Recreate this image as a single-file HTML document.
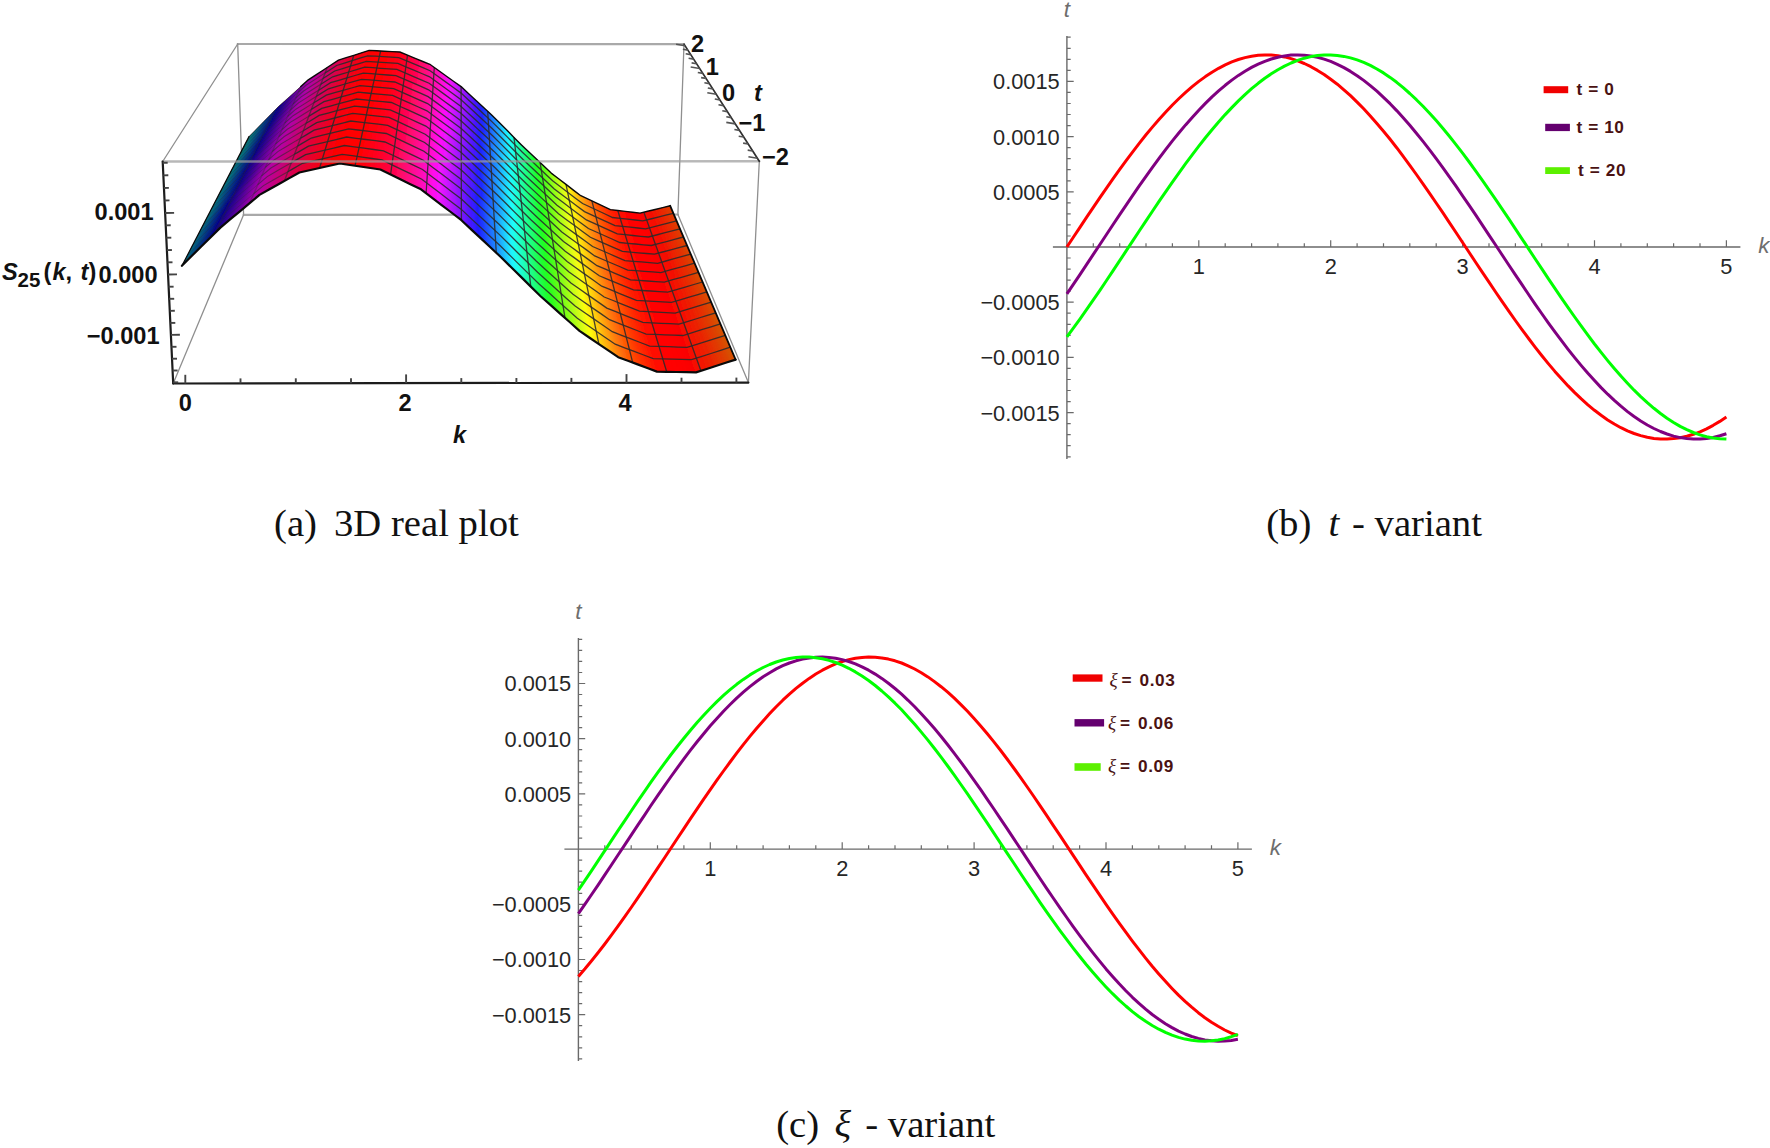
<!DOCTYPE html><html><head><meta charset="utf-8"><title>Figure</title>
<style>html,body{margin:0;padding:0;background:#fff}svg{display:block}text{font-family:"Liberation Sans",sans-serif}.b{font-weight:bold;font-size:23.6px;fill:#111}.tk{font-size:21.8px;fill:#262626}.al{font-size:22.5px;fill:#6e6e6e;font-style:italic}.lg{font-size:17.2px;font-weight:bold;fill:#4a1212;letter-spacing:0.6px}.cap{font-family:"Liberation Serif",serif;font-size:38.7px;fill:#111}</style></head><body>
<svg width="1770" height="1148" viewBox="0 0 1770 1148">
<rect width="1770" height="1148" fill="#fff"/>
<g id="box-back" stroke-linecap="round">
<line x1="237.7" y1="44" x2="684" y2="44.1" stroke="#a9a9a9" stroke-width="2.2"/>
<line x1="237.7" y1="44" x2="243.6" y2="214.8" stroke="#8f8f8f" stroke-width="1.3"/>
<line x1="684" y1="44.1" x2="677.9" y2="214.5" stroke="#8f8f8f" stroke-width="1.3"/>
<line x1="243.6" y1="214.8" x2="677.9" y2="214.5" stroke="#a9a9a9" stroke-width="2.2"/>
<line x1="173.2" y1="383.5" x2="243.6" y2="214.8" stroke="#8f8f8f" stroke-width="1.3"/>
<line x1="748.4" y1="382.6" x2="677.9" y2="214.5" stroke="#8f8f8f" stroke-width="1.3"/>
<line x1="162.7" y1="161.5" x2="237.7" y2="44" stroke="#8f8f8f" stroke-width="1.3"/>
</g>
<defs><clipPath id="sc"><path d="M181.9,265.8L191.4,256.3L201,246.7L210.7,237.2L220.4,227.6L230.1,219.4L239.9,211.3L249.7,203.1L259.5,194.9L269.5,189.3L279.4,183.7L289.4,178.1L299.4,172.5L309.5,170.2L319.6,168L329.6,165.8L339.8,163.5L349.9,165L360.1,166.5L370.3,168L380.4,169.5L390.6,174.4L400.8,179.4L410.9,184.4L421,189.3L431.2,197.1L441.3,204.8L451.4,212.5L461.4,220.2L471.4,229.6L481.4,238.9L491.4,248.2L501.3,257.5L511.2,267.3L521,276.9L530.8,286.6L540.6,296.2L550.4,304.9L560.1,313.6L569.9,322.3L579.5,330.9L589.2,337.5L598.9,344.1L608.6,350.6L618.2,357.2L627.9,360.8L637.6,364.4L647.3,368L656.9,371.6L666.7,371.8L676.4,372L686.2,372.2L696,372.4L705.9,369.2L715.8,366L725.7,362.8L735.6,359.6L670.2,205.8L662.7,207.6L655.1,209.5L647.6,211.3L640.1,213.1L632.7,212.2L625.3,211.4L617.8,210.5L610.4,209.6L603,206.1L595.6,202.7L588.2,199.2L580.8,195.7L573.4,190.1L566,184.4L558.6,178.8L551.2,173.1L543.8,166.1L536.4,159L528.9,152L521.5,144.9L514,137.4L506.5,129.8L499,122.3L491.4,114.7L483.9,107.7L476.3,100.7L468.7,93.7L461.1,86.6L453.5,81.2L445.8,75.7L438.2,70.2L430.5,64.7L422.8,61.5L415.2,58.3L407.5,55.2L399.8,52L392.1,51.6L384.4,51.2L376.7,50.8L369.1,50.4L361.4,52.8L353.8,55.3L346.2,57.7L338.5,60.1L331,65L323.4,70L315.9,74.9L308.3,79.8L300.8,86.5L293.4,93.2L285.9,99.9L278.5,106.5L271.1,114.1L263.7,121.6L256.4,129.1L249,136.6Z"/></clipPath><filter id="bl" x="-5%" y="-5%" width="110%" height="110%"><feGaussianBlur stdDeviation="1.6"/></filter></defs>
<path d="M181.9,265.8L191.4,256.3L201,246.7L210.7,237.2L220.4,227.6L230.1,219.4L239.9,211.3L249.7,203.1L259.5,194.9L269.5,189.3L279.4,183.7L289.4,178.1L299.4,172.5L309.5,170.2L319.6,168L329.6,165.8L339.8,163.5L349.9,165L360.1,166.5L370.3,168L380.4,169.5L390.6,174.4L400.8,179.4L410.9,184.4L421,189.3L431.2,197.1L441.3,204.8L451.4,212.5L461.4,220.2L471.4,229.6L481.4,238.9L491.4,248.2L501.3,257.5L511.2,267.3L521,276.9L530.8,286.6L540.6,296.2L550.4,304.9L560.1,313.6L569.9,322.3L579.5,330.9L589.2,337.5L598.9,344.1L608.6,350.6L618.2,357.2L627.9,360.8L637.6,364.4L647.3,368L656.9,371.6L666.7,371.8L676.4,372L686.2,372.2L696,372.4L705.9,369.2L715.8,366L725.7,362.8L735.6,359.6L670.2,205.8L662.7,207.6L655.1,209.5L647.6,211.3L640.1,213.1L632.7,212.2L625.3,211.4L617.8,210.5L610.4,209.6L603,206.1L595.6,202.7L588.2,199.2L580.8,195.7L573.4,190.1L566,184.4L558.6,178.8L551.2,173.1L543.8,166.1L536.4,159L528.9,152L521.5,144.9L514,137.4L506.5,129.8L499,122.3L491.4,114.7L483.9,107.7L476.3,100.7L468.7,93.7L461.1,86.6L453.5,81.2L445.8,75.7L438.2,70.2L430.5,64.7L422.8,61.5L415.2,58.3L407.5,55.2L399.8,52L392.1,51.6L384.4,51.2L376.7,50.8L369.1,50.4L361.4,52.8L353.8,55.3L346.2,57.7L338.5,60.1L331,65L323.4,70L315.9,74.9L308.3,79.8L300.8,86.5L293.4,93.2L285.9,99.9L278.5,106.5L271.1,114.1L263.7,121.6L256.4,129.1L249,136.6Z" fill="#c03060"/>
<g clip-path="url(#sc)"><g id="surf" stroke-width="0.7" stroke-linejoin="round" filter="url(#bl)">
<polygon points="222.4,176.1 235.5,162.7 253.4,128.2 241.3,140.6" fill="#008070" stroke="#008070"/>
<polygon points="235.5,162.7 239.4,158.7 257,124.5 253.4,128.2" fill="#008079" stroke="#008079"/>
<polygon points="239.4,158.7 243.3,154.8 260.6,120.8 257,124.5" fill="#007480" stroke="#007480"/>
<polygon points="243.3,154.8 247.2,150.8 264.2,117.2 260.6,120.8" fill="#006380" stroke="#006380"/>
<polygon points="247.2,150.8 251.1,146.8 267.8,113.5 264.2,117.2" fill="#005281" stroke="#005281"/>
<polygon points="251.1,146.8 255,142.9 271.4,109.8 267.8,113.5" fill="#004182" stroke="#004182"/>
<polygon points="255,142.9 258.9,138.9 275,106.1 271.4,109.8" fill="#003084" stroke="#003084"/>
<polygon points="258.9,138.9 262.8,134.9 278.6,102.4 275,106.1" fill="#001e86" stroke="#001e86"/>
<polygon points="262.8,134.9 266.8,130.9 282.3,98.7 278.6,102.4" fill="#000d89" stroke="#000d89"/>
<polygon points="266.8,130.9 270.7,127.4 285.9,95.4 282.3,98.7" fill="#06008c" stroke="#06008c"/>
<polygon points="270.7,127.4 274.7,123.9 289.5,92.1 285.9,95.4" fill="#18008f" stroke="#18008f"/>
<polygon points="274.7,123.9 278.6,120.4 293.2,88.8 289.5,92.1" fill="#2c0093" stroke="#2c0093"/>
<polygon points="278.6,120.4 282.6,116.9 296.8,85.5 293.2,88.8" fill="#3f0097" stroke="#3f0097"/>
<polygon points="282.6,116.9 286.6,113.4 300.5,82.2 296.8,85.5" fill="#54009b" stroke="#54009b"/>
<polygon points="286.6,113.4 290.5,109.9 304.2,78.9 300.5,82.2" fill="#6900a0" stroke="#6900a0"/>
<polygon points="290.5,109.9 294.5,106.4 307.8,75.6 304.2,78.9" fill="#7f00a5" stroke="#7f00a5"/>
<polygon points="294.5,106.4 298.5,102.9 311.5,72.3 307.8,75.6" fill="#9600aa" stroke="#9600aa"/>
<polygon points="298.5,102.9 302.5,100.4 315.2,69.9 311.5,72.3" fill="#ad00af" stroke="#ad00af"/>
<polygon points="302.5,100.4 306.5,97.9 318.9,67.5 315.2,69.9" fill="#b400a4" stroke="#b400a4"/>
<polygon points="306.5,97.9 310.5,95.3 322.6,65.1 318.9,67.5" fill="#ba0096" stroke="#ba0096"/>
<polygon points="310.5,95.3 314.5,92.8 326.2,62.6 322.6,65.1" fill="#bf0089" stroke="#bf0089"/>
<polygon points="314.5,92.8 318.6,90.3 329.9,60.2 326.2,62.6" fill="#c5007c" stroke="#c5007c"/>
<polygon points="318.6,90.3 322.6,87.7 333.7,57.7 329.9,60.2" fill="#ca006f" stroke="#ca006f"/>
<polygon points="322.6,87.7 326.6,85.2 337.4,55.3 333.7,57.7" fill="#d00062" stroke="#d00062"/>
<polygon points="326.6,85.2 330.6,82.7 341.1,52.9 337.4,55.3" fill="#d50055" stroke="#d50055"/>
<polygon points="330.6,82.7 334.7,81.5 344.8,51.6 341.1,52.9" fill="#db0048" stroke="#db0048"/>
<polygon points="334.7,81.5 338.8,80.3 348.5,50.4 344.8,51.6" fill="#e0003d" stroke="#e0003d"/>
<polygon points="338.8,80.3 342.8,79.1 352.3,49.2 348.5,50.4" fill="#e50031" stroke="#e50031"/>
<polygon points="342.8,79.1 346.9,77.9 356,48 352.3,49.2" fill="#e90027" stroke="#e90027"/>
<polygon points="346.9,77.9 351,76.7 359.7,46.8 356,48" fill="#ee001e" stroke="#ee001e"/>
<polygon points="351,76.7 355,75.5 363.5,45.5 359.7,46.8" fill="#f20015" stroke="#f20015"/>
<polygon points="355,75.5 359.1,74.3 367.2,44.3 363.5,45.5" fill="#f6000e" stroke="#f6000e"/>
<polygon points="359.1,74.3 363.2,73.1 371,43.1 367.2,44.3" fill="#f90008" stroke="#f90008"/>
<polygon points="363.2,73.1 367.2,73.4 374.7,43.3 371,43.1" fill="#fc0004" stroke="#fc0004"/>
<polygon points="367.2,73.4 371.3,73.7 378.5,43.4 374.7,43.3" fill="#fe0001" stroke="#fe0001"/>
<polygon points="371.3,73.7 375.4,74 382.2,43.6 378.5,43.4" fill="#ff0000" stroke="#ff0000"/>
<polygon points="375.4,74 379.5,74.3 386,43.7 382.2,43.6" fill="#ff0001" stroke="#ff0001"/>
<polygon points="379.5,74.3 383.6,74.7 389.8,43.9 386,43.7" fill="#ff0003" stroke="#ff0003"/>
<polygon points="383.6,74.7 387.7,75 393.5,44.1 389.8,43.9" fill="#ff0107" stroke="#ff0107"/>
<polygon points="387.7,75 391.8,75.3 397.3,44.2 393.5,44.1" fill="#ff010d" stroke="#ff010d"/>
<polygon points="391.8,75.3 395.9,75.6 401,44.4 397.3,44.2" fill="#ff0114" stroke="#ff0114"/>
<polygon points="395.9,75.6 400,77.4 404.8,45.9 401,44.4" fill="#ff021d" stroke="#ff021d"/>
<polygon points="400,77.4 404.1,79.1 408.6,47.5 404.8,45.9" fill="#ff0328" stroke="#ff0328"/>
<polygon points="404.1,79.1 408.2,80.9 412.3,49 408.6,47.5" fill="#ff0434" stroke="#ff0434"/>
<polygon points="408.2,80.9 412.3,82.7 416.1,50.5 412.3,49" fill="#ff0542" stroke="#ff0542"/>
<polygon points="412.3,82.7 416.3,84.5 419.9,52 416.1,50.5" fill="#ff0651" stroke="#ff0651"/>
<polygon points="416.3,84.5 420.4,86.2 423.6,53.6 419.9,52" fill="#ff0762" stroke="#ff0762"/>
<polygon points="420.4,86.2 424.5,88 427.4,55.1 423.6,53.6" fill="#ff0874" stroke="#ff0874"/>
<polygon points="424.5,88 428.6,89.8 431.1,56.6 427.4,55.1" fill="#ff0a87" stroke="#ff0a87"/>
<polygon points="428.6,89.8 432.7,92.8 434.9,59.3 431.1,56.6" fill="#ff0b9c" stroke="#ff0b9c"/>
<polygon points="432.7,92.8 436.8,95.7 438.6,62 434.9,59.3" fill="#ff0cb1" stroke="#ff0cb1"/>
<polygon points="436.8,95.7 440.8,98.7 442.4,64.6 438.6,62" fill="#ff0ec7" stroke="#ff0ec7"/>
<polygon points="440.8,98.7 444.9,101.7 446.1,67.3 442.4,64.6" fill="#ff0fde" stroke="#ff0fde"/>
<polygon points="444.9,101.7 449,104.7 449.9,70 446.1,67.3" fill="#ff11f6" stroke="#ff11f6"/>
<polygon points="449,104.7 453,107.6 453.6,72.6 449.9,70" fill="#ef12ff" stroke="#ef12ff"/>
<polygon points="453,107.6 457.1,110.6 457.4,75.3 453.6,72.6" fill="#d513ff" stroke="#d513ff"/>
<polygon points="457.1,110.6 461.2,113.6 461.1,78 457.4,75.3" fill="#bb15ff" stroke="#bb15ff"/>
<polygon points="461.2,113.6 465.2,117.3 464.8,81.4 461.1,78" fill="#a016ff" stroke="#a016ff"/>
<polygon points="465.2,117.3 469.3,121.1 468.5,84.8 464.8,81.4" fill="#8517ff" stroke="#8517ff"/>
<polygon points="469.3,121.1 473.3,124.8 472.3,88.3 468.5,84.8" fill="#6a18ff" stroke="#6a18ff"/>
<polygon points="473.3,124.8 477.3,128.6 476,91.7 472.3,88.3" fill="#4d19ff" stroke="#4d19ff"/>
<polygon points="477.3,128.6 481.4,132.3 479.7,95.1 476,91.7" fill="#311bff" stroke="#311bff"/>
<polygon points="481.4,132.3 485.4,136.1 483.4,98.5 479.7,95.1" fill="#1b23ff" stroke="#1b23ff"/>
<polygon points="485.4,136.1 489.4,139.8 487.1,102 483.4,98.5" fill="#1c42ff" stroke="#1c42ff"/>
<polygon points="489.4,139.8 493.4,143.6 490.8,105.4 487.1,102" fill="#1d61ff" stroke="#1d61ff"/>
<polygon points="493.4,143.6 497.4,147.6 494.5,109.1 490.8,105.4" fill="#1e80ff" stroke="#1e80ff"/>
<polygon points="497.4,147.6 501.4,151.6 498.2,112.8 494.5,109.1" fill="#1e9fff" stroke="#1e9fff"/>
<polygon points="501.4,151.6 505.4,155.6 501.9,116.5 498.2,112.8" fill="#1ebeff" stroke="#1ebeff"/>
<polygon points="505.4,155.6 509.4,159.6 505.5,120.2 501.9,116.5" fill="#1fddff" stroke="#1fddff"/>
<polygon points="509.4,159.6 513.4,163.6 509.2,123.9 505.5,120.2" fill="#1ffdff" stroke="#1ffdff"/>
<polygon points="513.4,163.6 517.4,167.6 512.9,127.6 509.2,123.9" fill="#1fffe2" stroke="#1fffe2"/>
<polygon points="517.4,167.6 521.4,171.6 516.6,131.3 512.9,127.6" fill="#1effc3" stroke="#1effc3"/>
<polygon points="521.4,171.6 525.3,175.5 520.2,135 516.6,131.3" fill="#1effa4" stroke="#1effa4"/>
<polygon points="525.3,175.5 529.3,179.3 523.9,138.5 520.2,135" fill="#1eff85" stroke="#1eff85"/>
<polygon points="529.3,179.3 533.3,183 527.5,142 523.9,138.5" fill="#1dff65" stroke="#1dff65"/>
<polygon points="533.3,183 537.2,186.7 531.2,145.5 527.5,142" fill="#1cff46" stroke="#1cff46"/>
<polygon points="537.2,186.7 541.2,190.4 534.8,148.9 531.2,145.5" fill="#1cff27" stroke="#1cff27"/>
<polygon points="541.2,190.4 545.1,194.1 538.5,152.4 534.8,148.9" fill="#2dff1b" stroke="#2dff1b"/>
<polygon points="545.1,194.1 549.1,197.8 542.1,155.9 538.5,152.4" fill="#49ff1a" stroke="#49ff1a"/>
<polygon points="549.1,197.8 553,201.5 545.7,159.3 542.1,155.9" fill="#65ff19" stroke="#65ff19"/>
<polygon points="553,201.5 557,205.2 549.4,162.8 545.7,159.3" fill="#81ff17" stroke="#81ff17"/>
<polygon points="557,205.2 560.9,208.1 553,165.6 549.4,162.8" fill="#9cff16" stroke="#9cff16"/>
<polygon points="560.9,208.1 564.8,211 556.6,168.4 553,165.6" fill="#b7ff15" stroke="#b7ff15"/>
<polygon points="564.8,211 568.8,213.9 560.3,171.2 556.6,168.4" fill="#d1ff14" stroke="#d1ff14"/>
<polygon points="568.8,213.9 572.7,216.9 563.9,174 560.3,171.2" fill="#ebff12" stroke="#ebff12"/>
<polygon points="572.7,216.9 576.6,219.8 567.5,176.8 563.9,174" fill="#fffa11" stroke="#fffa11"/>
<polygon points="576.6,219.8 580.6,222.7 571.1,179.5 567.5,176.8" fill="#ffe20f" stroke="#ffe20f"/>
<polygon points="580.6,222.7 584.5,225.6 574.7,182.3 571.1,179.5" fill="#ffcb0e" stroke="#ffcb0e"/>
<polygon points="584.5,225.6 588.4,228.5 578.4,185.1 574.7,182.3" fill="#ffb40c" stroke="#ffb40c"/>
<polygon points="588.4,228.5 592.3,230.3 582,186.8 578.4,185.1" fill="#ff9f0b" stroke="#ff9f0b"/>
<polygon points="592.3,230.3 596.3,232 585.6,188.6 582,186.8" fill="#ff8a0a" stroke="#ff8a0a"/>
<polygon points="596.3,232 600.2,233.8 589.2,190.3 585.6,188.6" fill="#ff7708" stroke="#ff7708"/>
<polygon points="600.2,233.8 604.1,235.5 592.9,192 589.2,190.3" fill="#ff6507" stroke="#ff6507"/>
<polygon points="604.1,235.5 608.1,237.3 596.5,193.8 592.9,192" fill="#ff5406" stroke="#ff5406"/>
<polygon points="608.1,237.3 612,239 600.1,195.5 596.5,193.8" fill="#ff4405" stroke="#ff4405"/>
<polygon points="612,239 615.9,240.8 603.7,197.2 600.1,195.5" fill="#ff3604" stroke="#ff3604"/>
<polygon points="615.9,240.8 619.8,242.5 607.3,199 603.7,197.2" fill="#ff2a03" stroke="#ff2a03"/>
<polygon points="619.8,242.5 623.8,242.9 611,199.4 607.3,199" fill="#ff1f02" stroke="#ff1f02"/>
<polygon points="623.8,242.9 627.7,243.3 614.6,199.9 611,199.4" fill="#ff1502" stroke="#ff1502"/>
<polygon points="627.7,243.3 631.7,243.6 618.3,200.4 614.6,199.9" fill="#ff0e01" stroke="#ff0e01"/>
<polygon points="631.7,243.6 635.6,244 621.9,200.8 618.3,200.4" fill="#ff0801" stroke="#ff0801"/>
<polygon points="635.6,244 639.6,244.4 625.5,201.3 621.9,200.8" fill="#ff0300" stroke="#ff0300"/>
<polygon points="639.6,244.4 643.5,244.8 629.2,201.7 625.5,201.3" fill="#ff0100" stroke="#ff0100"/>
<polygon points="643.5,244.8 647.5,245.1 632.8,202.2 629.2,201.7" fill="#ff0000" stroke="#ff0000"/>
<polygon points="647.5,245.1 651.4,245.5 636.5,202.7 632.8,202.2" fill="#fe0100" stroke="#fe0100"/>
<polygon points="651.4,245.5 655.4,244.4 640.1,201.8 636.5,202.7" fill="#fc0300" stroke="#fc0300"/>
<polygon points="655.4,244.4 659.4,243.4 643.8,200.9 640.1,201.8" fill="#f90800" stroke="#f90800"/>
<polygon points="659.4,243.4 663.4,242.3 647.5,200.1 643.8,200.9" fill="#f60d00" stroke="#f60d00"/>
<polygon points="663.4,242.3 667.4,241.3 651.2,199.2 647.5,200.1" fill="#f31400" stroke="#f31400"/>
<polygon points="667.4,241.3 671.4,240.2 654.9,198.3 651.2,199.2" fill="#ef1c00" stroke="#ef1c00"/>
<polygon points="671.4,240.2 675.4,239.1 658.6,197.4 654.9,198.3" fill="#ea2500" stroke="#ea2500"/>
<polygon points="675.4,239.1 679.4,238.1 662.2,196.6 658.6,197.4" fill="#e53000" stroke="#e53000"/>
<polygon points="679.4,238.1 683.4,237 665.9,195.7 662.2,196.6" fill="#e13b00" stroke="#e13b00"/>
<polygon points="683.4,237 697,230.3 678.4,189.8 665.9,195.7" fill="#de4100" stroke="#de4100"/>
<polygon points="206.1,206.6 220,192.3 235.5,162.7 222.4,176.1" fill="#00807b" stroke="#00807b"/>
<polygon points="220,192.3 224.2,188.1 239.4,158.7 235.5,162.7" fill="#007b80" stroke="#007b80"/>
<polygon points="224.2,188.1 228.4,183.9 243.3,154.8 239.4,158.7" fill="#006a80" stroke="#006a80"/>
<polygon points="228.4,183.9 232.5,179.7 247.2,150.8 243.3,154.8" fill="#005981" stroke="#005981"/>
<polygon points="232.5,179.7 236.7,175.5 251.1,146.8 247.2,150.8" fill="#004782" stroke="#004782"/>
<polygon points="236.7,175.5 240.9,171.3 255,142.9 251.1,146.8" fill="#003683" stroke="#003683"/>
<polygon points="240.9,171.3 245.1,167.1 258.9,138.9 255,142.9" fill="#002585" stroke="#002585"/>
<polygon points="245.1,167.1 249.2,162.9 262.8,134.9 258.9,138.9" fill="#001388" stroke="#001388"/>
<polygon points="249.2,162.9 253.4,158.7 266.8,130.9 262.8,134.9" fill="#00028b" stroke="#00028b"/>
<polygon points="253.4,158.7 257.6,155 270.7,127.4 266.8,130.9" fill="#11008e" stroke="#11008e"/>
<polygon points="257.6,155 261.9,151.4 274.7,123.9 270.7,127.4" fill="#240091" stroke="#240091"/>
<polygon points="261.9,151.4 266.1,147.7 278.6,120.4 274.7,123.9" fill="#380095" stroke="#380095"/>
<polygon points="266.1,147.7 270.3,144 282.6,116.9 278.6,120.4" fill="#4c009a" stroke="#4c009a"/>
<polygon points="270.3,144 274.6,140.3 286.6,113.4 282.6,116.9" fill="#61009e" stroke="#61009e"/>
<polygon points="274.6,140.3 278.8,136.7 290.5,109.9 286.6,113.4" fill="#7700a3" stroke="#7700a3"/>
<polygon points="278.8,136.7 283,133 294.5,106.4 290.5,109.9" fill="#8d00a8" stroke="#8d00a8"/>
<polygon points="283,133 287.3,129.3 298.5,102.9 294.5,106.4" fill="#a400ad" stroke="#a400ad"/>
<polygon points="287.3,129.3 291.6,126.7 302.5,100.4 298.5,102.9" fill="#b200a9" stroke="#b200a9"/>
<polygon points="291.6,126.7 295.9,124.1 306.5,97.9 302.5,100.4" fill="#b7009c" stroke="#b7009c"/>
<polygon points="295.9,124.1 300.2,121.5 310.5,95.3 306.5,97.9" fill="#bd008e" stroke="#bd008e"/>
<polygon points="300.2,121.5 304.5,118.9 314.5,92.8 310.5,95.3" fill="#c30081" stroke="#c30081"/>
<polygon points="304.5,118.9 308.8,116.3 318.6,90.3 314.5,92.8" fill="#c80074" stroke="#c80074"/>
<polygon points="308.8,116.3 313.1,113.6 322.6,87.7 318.6,90.3" fill="#ce0067" stroke="#ce0067"/>
<polygon points="313.1,113.6 317.4,111 326.6,85.2 322.6,87.7" fill="#d3005a" stroke="#d3005a"/>
<polygon points="317.4,111 321.7,108.4 330.6,82.7 326.6,85.2" fill="#d9004d" stroke="#d9004d"/>
<polygon points="321.7,108.4 326,107.2 334.7,81.5 330.6,82.7" fill="#de0041" stroke="#de0041"/>
<polygon points="326,107.2 330.3,106.1 338.8,80.3 334.7,81.5" fill="#e30036" stroke="#e30036"/>
<polygon points="330.3,106.1 334.7,104.9 342.8,79.1 338.8,80.3" fill="#e8002b" stroke="#e8002b"/>
<polygon points="334.7,104.9 339,103.7 346.9,77.9 342.8,79.1" fill="#ec0021" stroke="#ec0021"/>
<polygon points="339,103.7 343.4,102.5 351,76.7 346.9,77.9" fill="#f00018" stroke="#f00018"/>
<polygon points="343.4,102.5 347.7,101.4 355,75.5 351,76.7" fill="#f40011" stroke="#f40011"/>
<polygon points="347.7,101.4 352.1,100.2 359.1,74.3 355,75.5" fill="#f8000a" stroke="#f8000a"/>
<polygon points="352.1,100.2 356.4,99 363.2,73.1 359.1,74.3" fill="#fb0006" stroke="#fb0006"/>
<polygon points="356.4,99 360.8,99.5 367.2,73.4 363.2,73.1" fill="#fd0002" stroke="#fd0002"/>
<polygon points="360.8,99.5 365.2,99.9 371.3,73.7 367.2,73.4" fill="#ff0000" stroke="#ff0000"/>
<polygon points="365.2,99.9 369.6,100.3 375.4,74 371.3,73.7" fill="#ff0000" stroke="#ff0000"/>
<polygon points="369.6,100.3 373.9,100.8 379.5,74.3 375.4,74" fill="#ff0002" stroke="#ff0002"/>
<polygon points="373.9,100.8 378.3,101.2 383.6,74.7 379.5,74.3" fill="#ff0005" stroke="#ff0005"/>
<polygon points="378.3,101.2 382.7,101.6 387.7,75 383.6,74.7" fill="#ff010a" stroke="#ff010a"/>
<polygon points="382.7,101.6 387.1,102.1 391.8,75.3 387.7,75" fill="#ff0111" stroke="#ff0111"/>
<polygon points="387.1,102.1 391.4,102.5 395.9,75.6 391.8,75.3" fill="#ff0219" stroke="#ff0219"/>
<polygon points="391.4,102.5 395.8,104.5 400,77.4 395.9,75.6" fill="#ff0324" stroke="#ff0324"/>
<polygon points="395.8,104.5 400.2,106.5 404.1,79.1 400,77.4" fill="#ff032f" stroke="#ff032f"/>
<polygon points="400.2,106.5 404.6,108.5 408.2,80.9 404.1,79.1" fill="#ff043d" stroke="#ff043d"/>
<polygon points="404.6,108.5 409,110.4 412.3,82.7 408.2,80.9" fill="#ff054b" stroke="#ff054b"/>
<polygon points="409,110.4 413.3,112.4 416.3,84.5 412.3,82.7" fill="#ff075b" stroke="#ff075b"/>
<polygon points="413.3,112.4 417.7,114.4 420.4,86.2 416.3,84.5" fill="#ff086d" stroke="#ff086d"/>
<polygon points="417.7,114.4 422.1,116.4 424.5,88 420.4,86.2" fill="#ff0980" stroke="#ff0980"/>
<polygon points="422.1,116.4 426.4,118.3 428.6,89.8 424.5,88" fill="#ff0a93" stroke="#ff0a93"/>
<polygon points="426.4,118.3 430.8,121.6 432.7,92.8 428.6,89.8" fill="#ff0ca8" stroke="#ff0ca8"/>
<polygon points="430.8,121.6 435.2,124.8 436.8,95.7 432.7,92.8" fill="#ff0dbe" stroke="#ff0dbe"/>
<polygon points="435.2,124.8 439.5,128.1 440.8,98.7 436.8,95.7" fill="#ff0fd5" stroke="#ff0fd5"/>
<polygon points="439.5,128.1 443.9,131.3 444.9,101.7 440.8,98.7" fill="#ff10ed" stroke="#ff10ed"/>
<polygon points="443.9,131.3 448.2,134.5 449,104.7 444.9,101.7" fill="#f811ff" stroke="#f811ff"/>
<polygon points="448.2,134.5 452.6,137.8 453,107.6 449,104.7" fill="#df13ff" stroke="#df13ff"/>
<polygon points="452.6,137.8 456.9,141 457.1,110.6 453,107.6" fill="#c514ff" stroke="#c514ff"/>
<polygon points="456.9,141 461.2,144.2 461.2,113.6 457.1,110.6" fill="#ab15ff" stroke="#ab15ff"/>
<polygon points="461.2,144.2 465.6,148.3 465.2,117.3 461.2,113.6" fill="#9017ff" stroke="#9017ff"/>
<polygon points="465.6,148.3 469.9,152.3 469.3,121.1 465.2,117.3" fill="#7418ff" stroke="#7418ff"/>
<polygon points="469.9,152.3 474.2,156.3 473.3,124.8 469.3,121.1" fill="#5819ff" stroke="#5819ff"/>
<polygon points="474.2,156.3 478.5,160.3 477.3,128.6 473.3,124.8" fill="#3c1aff" stroke="#3c1aff"/>
<polygon points="478.5,160.3 482.8,164.4 481.4,132.3 477.3,128.6" fill="#1f1bff" stroke="#1f1bff"/>
<polygon points="482.8,164.4 487.1,168.4 485.4,136.1 481.4,132.3" fill="#1c36ff" stroke="#1c36ff"/>
<polygon points="487.1,168.4 491.4,172.4 489.4,139.8 485.4,136.1" fill="#1d55ff" stroke="#1d55ff"/>
<polygon points="491.4,172.4 495.7,176.4 493.4,143.6 489.4,139.8" fill="#1d74ff" stroke="#1d74ff"/>
<polygon points="495.7,176.4 500,180.6 497.4,147.6 493.4,143.6" fill="#1e93ff" stroke="#1e93ff"/>
<polygon points="500,180.6 504.2,184.9 501.4,151.6 497.4,147.6" fill="#1eb2ff" stroke="#1eb2ff"/>
<polygon points="504.2,184.9 508.5,189.2 505.4,155.6 501.4,151.6" fill="#1ed1ff" stroke="#1ed1ff"/>
<polygon points="508.5,189.2 512.8,193.4 509.4,159.6 505.4,155.6" fill="#1ff1ff" stroke="#1ff1ff"/>
<polygon points="512.8,193.4 517,197.7 513.4,163.6 509.4,159.6" fill="#1fffee" stroke="#1fffee"/>
<polygon points="517,197.7 521.3,201.9 517.4,167.6 513.4,163.6" fill="#1effcf" stroke="#1effcf"/>
<polygon points="521.3,201.9 525.5,206.1 521.4,171.6 517.4,167.6" fill="#1effb0" stroke="#1effb0"/>
<polygon points="525.5,206.1 529.8,210.3 525.3,175.5 521.4,171.6" fill="#1eff91" stroke="#1eff91"/>
<polygon points="529.8,210.3 534,214.3 529.3,179.3 525.3,175.5" fill="#1dff72" stroke="#1dff72"/>
<polygon points="534,214.3 538.2,218.2 533.3,183 529.3,179.3" fill="#1dff52" stroke="#1dff52"/>
<polygon points="538.2,218.2 542.4,222.1 537.2,186.7 533.3,183" fill="#1cff33" stroke="#1cff33"/>
<polygon points="542.4,222.1 546.7,225.9 541.2,190.4 537.2,186.7" fill="#21ff1b" stroke="#21ff1b"/>
<polygon points="546.7,225.9 550.9,229.8 545.1,194.1 541.2,190.4" fill="#3eff1a" stroke="#3eff1a"/>
<polygon points="550.9,229.8 555.1,233.7 549.1,197.8 545.1,194.1" fill="#5aff19" stroke="#5aff19"/>
<polygon points="555.1,233.7 559.3,237.6 553,201.5 549.1,197.8" fill="#76ff18" stroke="#76ff18"/>
<polygon points="559.3,237.6 563.5,241.5 557,205.2 553,201.5" fill="#92ff17" stroke="#92ff17"/>
<polygon points="563.5,241.5 567.7,244.5 560.9,208.1 557,205.2" fill="#adff15" stroke="#adff15"/>
<polygon points="567.7,244.5 571.9,247.5 564.8,211 560.9,208.1" fill="#c7ff14" stroke="#c7ff14"/>
<polygon points="571.9,247.5 576.1,250.6 568.8,213.9 564.8,211" fill="#e1ff13" stroke="#e1ff13"/>
<polygon points="576.1,250.6 580.3,253.6 572.7,216.9 568.8,213.9" fill="#faff11" stroke="#faff11"/>
<polygon points="580.3,253.6 584.5,256.6 576.6,219.8 572.7,216.9" fill="#ffeb10" stroke="#ffeb10"/>
<polygon points="584.5,256.6 588.6,259.6 580.6,222.7 576.6,219.8" fill="#ffd40e" stroke="#ffd40e"/>
<polygon points="588.6,259.6 592.8,262.7 584.5,225.6 580.6,222.7" fill="#ffbd0d" stroke="#ffbd0d"/>
<polygon points="592.8,262.7 597,265.7 588.4,228.5 584.5,225.6" fill="#ffa70c" stroke="#ffa70c"/>
<polygon points="597,265.7 601.2,267.4 592.3,230.3 588.4,228.5" fill="#ff920a" stroke="#ff920a"/>
<polygon points="601.2,267.4 605.4,269.2 596.3,232 592.3,230.3" fill="#ff7e09" stroke="#ff7e09"/>
<polygon points="605.4,269.2 609.6,271 600.2,233.8 596.3,232" fill="#ff6c08" stroke="#ff6c08"/>
<polygon points="609.6,271 613.8,272.8 604.1,235.5 600.2,233.8" fill="#ff5a06" stroke="#ff5a06"/>
<polygon points="613.8,272.8 618,274.5 608.1,237.3 604.1,235.5" fill="#ff4a05" stroke="#ff4a05"/>
<polygon points="618,274.5 622.2,276.3 612,239 608.1,237.3" fill="#ff3c04" stroke="#ff3c04"/>
<polygon points="622.2,276.3 626.3,278.1 615.9,240.8 612,239" fill="#ff2e03" stroke="#ff2e03"/>
<polygon points="626.3,278.1 630.5,279.8 619.8,242.5 615.9,240.8" fill="#ff2303" stroke="#ff2303"/>
<polygon points="630.5,279.8 634.7,280.1 623.8,242.9 619.8,242.5" fill="#ff1902" stroke="#ff1902"/>
<polygon points="634.7,280.1 639,280.4 627.7,243.3 623.8,242.9" fill="#ff1001" stroke="#ff1001"/>
<polygon points="639,280.4 643.2,280.7 631.7,243.6 627.7,243.3" fill="#ff0a01" stroke="#ff0a01"/>
<polygon points="643.2,280.7 647.4,281 635.6,244 631.7,243.6" fill="#ff0500" stroke="#ff0500"/>
<polygon points="647.4,281 651.6,281.3 639.6,244.4 635.6,244" fill="#ff0200" stroke="#ff0200"/>
<polygon points="651.6,281.3 655.8,281.6 643.5,244.8 639.6,244.4" fill="#ff0000" stroke="#ff0000"/>
<polygon points="655.8,281.6 660.1,281.9 647.5,245.1 643.5,244.8" fill="#fe0000" stroke="#fe0000"/>
<polygon points="660.1,281.9 664.3,282.2 651.4,245.5 647.5,245.1" fill="#fd0200" stroke="#fd0200"/>
<polygon points="664.3,282.2 668.6,281 655.4,244.4 651.4,245.5" fill="#fa0600" stroke="#fa0600"/>
<polygon points="668.6,281 672.8,279.7 659.4,243.4 655.4,244.4" fill="#f80b00" stroke="#f80b00"/>
<polygon points="672.8,279.7 677.1,278.5 663.4,242.3 659.4,243.4" fill="#f41100" stroke="#f41100"/>
<polygon points="677.1,278.5 681.4,277.3 667.4,241.3 663.4,242.3" fill="#f01900" stroke="#f01900"/>
<polygon points="681.4,277.3 685.7,276.1 671.4,240.2 667.4,241.3" fill="#ec2200" stroke="#ec2200"/>
<polygon points="685.7,276.1 689.9,274.9 675.4,239.1 671.4,240.2" fill="#e72c00" stroke="#e72c00"/>
<polygon points="689.9,274.9 694.2,273.6 679.4,238.1 675.4,239.1" fill="#e23600" stroke="#e23600"/>
<polygon points="694.2,273.6 698.5,272.4 683.4,237 679.4,238.1" fill="#dd4200" stroke="#dd4200"/>
<polygon points="698.5,272.4 713,265 697,230.3 683.4,237" fill="#db4800" stroke="#db4800"/>
<polygon points="187.5,241.6 202.4,226.3 220,192.3 206.1,206.6" fill="#007b80" stroke="#007b80"/>
<polygon points="202.4,226.3 206.8,221.9 224.2,188.1 220,192.3" fill="#007280" stroke="#007280"/>
<polygon points="206.8,221.9 211.3,217.4 228.4,183.9 224.2,188.1" fill="#006180" stroke="#006180"/>
<polygon points="211.3,217.4 215.7,213 232.5,179.7 228.4,183.9" fill="#005081" stroke="#005081"/>
<polygon points="215.7,213 220.2,208.5 236.7,175.5 232.5,179.7" fill="#003f83" stroke="#003f83"/>
<polygon points="220.2,208.5 224.7,204 240.9,171.3 236.7,175.5" fill="#002d84" stroke="#002d84"/>
<polygon points="224.7,204 229.1,199.5 245.1,167.1 240.9,171.3" fill="#001c87" stroke="#001c87"/>
<polygon points="229.1,199.5 233.6,195.1 249.2,162.9 245.1,167.1" fill="#000a89" stroke="#000a89"/>
<polygon points="233.6,195.1 238.1,190.6 253.4,158.7 249.2,162.9" fill="#08008c" stroke="#08008c"/>
<polygon points="238.1,190.6 242.6,186.7 257.6,155 253.4,158.7" fill="#1b0090" stroke="#1b0090"/>
<polygon points="242.6,186.7 247.2,182.9 261.9,151.4 257.6,155" fill="#2e0093" stroke="#2e0093"/>
<polygon points="247.2,182.9 251.7,179 266.1,147.7 261.9,151.4" fill="#420097" stroke="#420097"/>
<polygon points="251.7,179 256.2,175.1 270.3,144 266.1,147.7" fill="#57009c" stroke="#57009c"/>
<polygon points="256.2,175.1 260.8,171.3 274.6,140.3 270.3,144" fill="#6c00a0" stroke="#6c00a0"/>
<polygon points="260.8,171.3 265.3,167.4 278.8,136.7 274.6,140.3" fill="#8200a5" stroke="#8200a5"/>
<polygon points="265.3,167.4 269.9,163.5 283,133 278.8,136.7" fill="#9900aa" stroke="#9900aa"/>
<polygon points="269.9,163.5 274.4,159.7 287.3,129.3 283,133" fill="#b000af" stroke="#b000af"/>
<polygon points="274.4,159.7 279,157 291.6,126.7 287.3,129.3" fill="#b500a2" stroke="#b500a2"/>
<polygon points="279,157 283.7,154.3 295.9,124.1 291.6,126.7" fill="#ba0095" stroke="#ba0095"/>
<polygon points="283.7,154.3 288.3,151.6 300.2,121.5 295.9,124.1" fill="#c00087" stroke="#c00087"/>
<polygon points="288.3,151.6 292.9,148.9 304.5,118.9 300.2,121.5" fill="#c5007a" stroke="#c5007a"/>
<polygon points="292.9,148.9 297.5,146.2 308.8,116.3 304.5,118.9" fill="#cb006d" stroke="#cb006d"/>
<polygon points="297.5,146.2 302.1,143.4 313.1,113.6 308.8,116.3" fill="#d10060" stroke="#d10060"/>
<polygon points="302.1,143.4 306.7,140.7 317.4,111 313.1,113.6" fill="#d60053" stroke="#d60053"/>
<polygon points="306.7,140.7 311.3,138 321.7,108.4 317.4,111" fill="#db0047" stroke="#db0047"/>
<polygon points="311.3,138 316,136.9 326,107.2 321.7,108.4" fill="#e0003b" stroke="#e0003b"/>
<polygon points="316,136.9 320.7,135.7 330.3,106.1 326,107.2" fill="#e50030" stroke="#e50030"/>
<polygon points="320.7,135.7 325.3,134.6 334.7,104.9 330.3,106.1" fill="#ea0026" stroke="#ea0026"/>
<polygon points="325.3,134.6 330,133.4 339,103.7 334.7,104.9" fill="#ee001c" stroke="#ee001c"/>
<polygon points="330,133.4 334.7,132.3 343.4,102.5 339,103.7" fill="#f30014" stroke="#f30014"/>
<polygon points="334.7,132.3 339.4,131.1 347.7,101.4 343.4,102.5" fill="#f6000d" stroke="#f6000d"/>
<polygon points="339.4,131.1 344,130 352.1,100.2 347.7,101.4" fill="#f90008" stroke="#f90008"/>
<polygon points="344,130 348.7,128.9 356.4,99 352.1,100.2" fill="#fc0004" stroke="#fc0004"/>
<polygon points="348.7,128.9 353.4,129.4 360.8,99.5 356.4,99" fill="#fe0001" stroke="#fe0001"/>
<polygon points="353.4,129.4 358.1,130 365.2,99.9 360.8,99.5" fill="#ff0000" stroke="#ff0000"/>
<polygon points="358.1,130 362.8,130.6 369.6,100.3 365.2,99.9" fill="#ff0001" stroke="#ff0001"/>
<polygon points="362.8,130.6 367.5,131.2 373.9,100.8 369.6,100.3" fill="#ff0003" stroke="#ff0003"/>
<polygon points="367.5,131.2 372.2,131.7 378.3,101.2 373.9,100.8" fill="#ff0107" stroke="#ff0107"/>
<polygon points="372.2,131.7 376.9,132.3 382.7,101.6 378.3,101.2" fill="#ff010d" stroke="#ff010d"/>
<polygon points="376.9,132.3 381.6,132.9 387.1,102.1 382.7,101.6" fill="#ff0215" stroke="#ff0215"/>
<polygon points="381.6,132.9 386.3,133.5 391.4,102.5 387.1,102.1" fill="#ff021f" stroke="#ff021f"/>
<polygon points="386.3,133.5 391,135.7 395.8,104.5 391.4,102.5" fill="#ff032a" stroke="#ff032a"/>
<polygon points="391,135.7 395.8,137.9 400.2,106.5 395.8,104.5" fill="#ff0436" stroke="#ff0436"/>
<polygon points="395.8,137.9 400.5,140.1 404.6,108.5 400.2,106.5" fill="#ff0544" stroke="#ff0544"/>
<polygon points="400.5,140.1 405.2,142.3 409,110.4 404.6,108.5" fill="#ff0654" stroke="#ff0654"/>
<polygon points="405.2,142.3 409.9,144.6 413.3,112.4 409,110.4" fill="#ff0764" stroke="#ff0764"/>
<polygon points="409.9,144.6 414.6,146.8 417.7,114.4 413.3,112.4" fill="#ff0877" stroke="#ff0877"/>
<polygon points="414.6,146.8 419.2,149 422.1,116.4 417.7,114.4" fill="#ff0a8a" stroke="#ff0a8a"/>
<polygon points="419.2,149 423.9,151.2 426.4,118.3 422.1,116.4" fill="#ff0b9e" stroke="#ff0b9e"/>
<polygon points="423.9,151.2 428.6,154.7 430.8,121.6 426.4,118.3" fill="#ff0cb4" stroke="#ff0cb4"/>
<polygon points="428.6,154.7 433.3,158.3 435.2,124.8 430.8,121.6" fill="#ff0eca" stroke="#ff0eca"/>
<polygon points="433.3,158.3 438,161.8 439.5,128.1 435.2,124.8" fill="#ff0fe1" stroke="#ff0fe1"/>
<polygon points="438,161.8 442.7,165.3 443.9,131.3 439.5,128.1" fill="#ff11fa" stroke="#ff11fa"/>
<polygon points="442.7,165.3 447.3,168.8 448.2,134.5 443.9,131.3" fill="#eb12ff" stroke="#eb12ff"/>
<polygon points="447.3,168.8 452,172.4 452.6,137.8 448.2,134.5" fill="#d213ff" stroke="#d213ff"/>
<polygon points="452,172.4 456.7,175.9 456.9,141 452.6,137.8" fill="#b815ff" stroke="#b815ff"/>
<polygon points="456.7,175.9 461.3,179.4 461.2,144.2 456.9,141" fill="#9d16ff" stroke="#9d16ff"/>
<polygon points="461.3,179.4 466,183.7 465.6,148.3 461.2,144.2" fill="#8217ff" stroke="#8217ff"/>
<polygon points="466,183.7 470.6,188.1 469.9,152.3 465.6,148.3" fill="#6619ff" stroke="#6619ff"/>
<polygon points="470.6,188.1 475.2,192.4 474.2,156.3 469.9,152.3" fill="#4a1aff" stroke="#4a1aff"/>
<polygon points="475.2,192.4 479.8,196.7 478.5,160.3 474.2,156.3" fill="#2d1bff" stroke="#2d1bff"/>
<polygon points="479.8,196.7 484.5,201.1 482.8,164.4 478.5,160.3" fill="#1c27ff" stroke="#1c27ff"/>
<polygon points="484.5,201.1 489.1,205.4 487.1,168.4 482.8,164.4" fill="#1c46ff" stroke="#1c46ff"/>
<polygon points="489.1,205.4 493.7,209.7 491.4,172.4 487.1,168.4" fill="#1d65ff" stroke="#1d65ff"/>
<polygon points="493.7,209.7 498.3,214 495.7,176.4 491.4,172.4" fill="#1e84ff" stroke="#1e84ff"/>
<polygon points="498.3,214 502.9,218.5 500,180.6 495.7,176.4" fill="#1ea3ff" stroke="#1ea3ff"/>
<polygon points="502.9,218.5 507.5,223.1 504.2,184.9 500,180.6" fill="#1ec2ff" stroke="#1ec2ff"/>
<polygon points="507.5,223.1 512,227.6 508.5,189.2 504.2,184.9" fill="#1fe2ff" stroke="#1fe2ff"/>
<polygon points="512,227.6 516.6,232.1 512.8,193.4 508.5,189.2" fill="#1ffffd" stroke="#1ffffd"/>
<polygon points="516.6,232.1 521.2,236.7 517,197.7 512.8,193.4" fill="#1fffde" stroke="#1fffde"/>
<polygon points="521.2,236.7 525.7,241.2 521.3,201.9 517,197.7" fill="#1effbf" stroke="#1effbf"/>
<polygon points="525.7,241.2 530.3,245.7 525.5,206.1 521.3,201.9" fill="#1effa0" stroke="#1effa0"/>
<polygon points="530.3,245.7 534.8,250.2 529.8,210.3 525.5,206.1" fill="#1eff80" stroke="#1eff80"/>
<polygon points="534.8,250.2 539.3,254.3 534,214.3 529.8,210.3" fill="#1dff61" stroke="#1dff61"/>
<polygon points="539.3,254.3 543.9,258.4 538.2,218.2 534,214.3" fill="#1cff42" stroke="#1cff42"/>
<polygon points="543.9,258.4 548.4,262.5 542.4,222.1 538.2,218.2" fill="#1bff23" stroke="#1bff23"/>
<polygon points="548.4,262.5 552.9,266.6 546.7,225.9 542.4,222.1" fill="#30ff1b" stroke="#30ff1b"/>
<polygon points="552.9,266.6 557.4,270.7 550.9,229.8 546.7,225.9" fill="#4dff1a" stroke="#4dff1a"/>
<polygon points="557.4,270.7 561.9,274.8 555.1,233.7 550.9,229.8" fill="#69ff18" stroke="#69ff18"/>
<polygon points="561.9,274.8 566.4,278.9 559.3,237.6 555.1,233.7" fill="#85ff17" stroke="#85ff17"/>
<polygon points="566.4,278.9 570.9,283 563.5,241.5 559.3,237.6" fill="#a0ff16" stroke="#a0ff16"/>
<polygon points="570.9,283 575.4,286.1 567.7,244.5 563.5,241.5" fill="#bbff15" stroke="#bbff15"/>
<polygon points="575.4,286.1 579.9,289.3 571.9,247.5 567.7,244.5" fill="#d5ff13" stroke="#d5ff13"/>
<polygon points="579.9,289.3 584.4,292.4 576.1,250.6 571.9,247.5" fill="#eeff12" stroke="#eeff12"/>
<polygon points="584.4,292.4 588.9,295.6 580.3,253.6 576.1,250.6" fill="#fff711" stroke="#fff711"/>
<polygon points="588.9,295.6 593.4,298.7 584.5,256.6 580.3,253.6" fill="#ffdf0f" stroke="#ffdf0f"/>
<polygon points="593.4,298.7 597.9,301.9 588.6,259.6 584.5,256.6" fill="#ffc80e" stroke="#ffc80e"/>
<polygon points="597.9,301.9 602.4,305 592.8,262.7 588.6,259.6" fill="#ffb10c" stroke="#ffb10c"/>
<polygon points="602.4,305 606.8,308.1 597,265.7 592.8,262.7" fill="#ff9c0b" stroke="#ff9c0b"/>
<polygon points="606.8,308.1 611.3,309.9 601.2,267.4 597,265.7" fill="#ff880a" stroke="#ff880a"/>
<polygon points="611.3,309.9 615.8,311.7 605.4,269.2 601.2,267.4" fill="#ff7408" stroke="#ff7408"/>
<polygon points="615.8,311.7 620.3,313.5 609.6,271 605.4,269.2" fill="#ff6207" stroke="#ff6207"/>
<polygon points="620.3,313.5 624.8,315.3 613.8,272.8 609.6,271" fill="#ff5206" stroke="#ff5206"/>
<polygon points="624.8,315.3 629.3,317.1 618,274.5 613.8,272.8" fill="#ff4205" stroke="#ff4205"/>
<polygon points="629.3,317.1 633.8,318.9 622.2,276.3 618,274.5" fill="#ff3504" stroke="#ff3504"/>
<polygon points="633.8,318.9 638.3,320.7 626.3,278.1 622.2,276.3" fill="#ff2803" stroke="#ff2803"/>
<polygon points="638.3,320.7 642.8,322.4 630.5,279.8 626.3,278.1" fill="#ff1d02" stroke="#ff1d02"/>
<polygon points="642.8,322.4 647.3,322.6 634.7,280.1 630.5,279.8" fill="#ff1401" stroke="#ff1401"/>
<polygon points="647.3,322.6 651.8,322.9 639,280.4 634.7,280.1" fill="#ff0d01" stroke="#ff0d01"/>
<polygon points="651.8,322.9 656.3,323.1 643.2,280.7 639,280.4" fill="#ff0701" stroke="#ff0701"/>
<polygon points="656.3,323.1 660.9,323.3 647.4,281 643.2,280.7" fill="#ff0300" stroke="#ff0300"/>
<polygon points="660.9,323.3 665.4,323.5 651.6,281.3 647.4,281" fill="#ff0100" stroke="#ff0100"/>
<polygon points="665.4,323.5 669.9,323.7 655.8,281.6 651.6,281.3" fill="#ff0000" stroke="#ff0000"/>
<polygon points="669.9,323.7 674.5,323.9 660.1,281.9 655.8,281.6" fill="#fe0100" stroke="#fe0100"/>
<polygon points="674.5,323.9 679,324.1 664.3,282.2 660.1,281.9" fill="#fc0400" stroke="#fc0400"/>
<polygon points="679,324.1 683.6,322.7 668.6,281 664.3,282.2" fill="#f90800" stroke="#f90800"/>
<polygon points="683.6,322.7 688.1,321.3 672.8,279.7 668.6,281" fill="#f60e00" stroke="#f60e00"/>
<polygon points="688.1,321.3 692.7,319.9 677.1,278.5 672.8,279.7" fill="#f21500" stroke="#f21500"/>
<polygon points="692.7,319.9 697.3,318.5 681.4,277.3 677.1,278.5" fill="#ee1d00" stroke="#ee1d00"/>
<polygon points="697.3,318.5 701.9,317.1 685.7,276.1 681.4,277.3" fill="#ea2700" stroke="#ea2700"/>
<polygon points="701.9,317.1 706.5,315.7 689.9,274.9 685.7,276.1" fill="#e53100" stroke="#e53100"/>
<polygon points="706.5,315.7 711.1,314.3 694.2,273.6 689.9,274.9" fill="#e03c00" stroke="#e03c00"/>
<polygon points="711.1,314.3 715.7,312.9 698.5,272.4 694.2,273.6" fill="#db4800" stroke="#db4800"/>
<polygon points="715.7,312.9 731.3,304.6 713,265 698.5,272.4" fill="#d84e00" stroke="#d84e00"/>
<polygon points="157.4,298 173.9,281.1 202.4,226.3 187.5,241.6" fill="#007080" stroke="#007080"/>
<polygon points="173.9,281.1 178.8,276.2 206.8,221.9 202.4,226.3" fill="#006880" stroke="#006880"/>
<polygon points="178.8,276.2 183.7,271.4 211.3,217.4 206.8,221.9" fill="#005681" stroke="#005681"/>
<polygon points="183.7,271.4 188.7,266.5 215.7,213 211.3,217.4" fill="#004582" stroke="#004582"/>
<polygon points="188.7,266.5 193.6,261.6 220.2,208.5 215.7,213" fill="#003484" stroke="#003484"/>
<polygon points="193.6,261.6 198.6,256.7 224.7,204 220.2,208.5" fill="#002386" stroke="#002386"/>
<polygon points="198.6,256.7 203.5,251.8 229.1,199.5 224.7,204" fill="#001188" stroke="#001188"/>
<polygon points="203.5,251.8 208.5,246.9 233.6,195.1 229.1,199.5" fill="#01008b" stroke="#01008b"/>
<polygon points="208.5,246.9 213.5,242 238.1,190.6 233.6,195.1" fill="#13008e" stroke="#13008e"/>
<polygon points="213.5,242 218.5,237.8 242.6,186.7 238.1,190.6" fill="#260092" stroke="#260092"/>
<polygon points="218.5,237.8 223.5,233.7 247.2,182.9 242.6,186.7" fill="#3a0096" stroke="#3a0096"/>
<polygon points="223.5,233.7 228.5,229.5 251.7,179 247.2,182.9" fill="#4f009a" stroke="#4f009a"/>
<polygon points="228.5,229.5 233.5,225.4 256.2,175.1 251.7,179" fill="#64009f" stroke="#64009f"/>
<polygon points="233.5,225.4 238.6,221.2 260.8,171.3 256.2,175.1" fill="#7a00a3" stroke="#7a00a3"/>
<polygon points="238.6,221.2 243.6,217 265.3,167.4 260.8,171.3" fill="#9000a8" stroke="#9000a8"/>
<polygon points="243.6,217 248.7,212.8 269.9,163.5 265.3,167.4" fill="#a700ad" stroke="#a700ad"/>
<polygon points="248.7,212.8 253.7,208.6 274.4,159.7 269.9,163.5" fill="#b300a7" stroke="#b300a7"/>
<polygon points="253.7,208.6 258.8,205.8 279,157 274.4,159.7" fill="#b8009a" stroke="#b8009a"/>
<polygon points="258.8,205.8 264,203 283.7,154.3 279,157" fill="#be008d" stroke="#be008d"/>
<polygon points="264,203 269.1,200.1 288.3,151.6 283.7,154.3" fill="#c3007f" stroke="#c3007f"/>
<polygon points="269.1,200.1 274.2,197.3 292.9,148.9 288.3,151.6" fill="#c90072" stroke="#c90072"/>
<polygon points="274.2,197.3 279.3,194.4 297.5,146.2 292.9,148.9" fill="#ce0065" stroke="#ce0065"/>
<polygon points="279.3,194.4 284.4,191.6 302.1,143.4 297.5,146.2" fill="#d40058" stroke="#d40058"/>
<polygon points="284.4,191.6 289.6,188.7 306.7,140.7 302.1,143.4" fill="#d9004c" stroke="#d9004c"/>
<polygon points="289.6,188.7 294.7,185.9 311.3,138 306.7,140.7" fill="#de0040" stroke="#de0040"/>
<polygon points="294.7,185.9 299.9,184.8 316,136.9 311.3,138" fill="#e30034" stroke="#e30034"/>
<polygon points="299.9,184.8 305.1,183.7 320.7,135.7 316,136.9" fill="#e8002a" stroke="#e8002a"/>
<polygon points="305.1,183.7 310.3,182.6 325.3,134.6 320.7,135.7" fill="#ed0020" stroke="#ed0020"/>
<polygon points="310.3,182.6 315.5,181.5 330,133.4 325.3,134.6" fill="#f10017" stroke="#f10017"/>
<polygon points="315.5,181.5 320.7,180.4 334.7,132.3 330,133.4" fill="#f50010" stroke="#f50010"/>
<polygon points="320.7,180.4 325.9,179.3 339.4,131.1 334.7,132.3" fill="#f8000a" stroke="#f8000a"/>
<polygon points="325.9,179.3 331.1,178.2 344,130 339.4,131.1" fill="#fb0005" stroke="#fb0005"/>
<polygon points="331.1,178.2 336.3,177.1 348.7,128.9 344,130" fill="#fd0002" stroke="#fd0002"/>
<polygon points="336.3,177.1 341.5,177.9 353.4,129.4 348.7,128.9" fill="#ff0000" stroke="#ff0000"/>
<polygon points="341.5,177.9 346.7,178.7 358.1,130 353.4,129.4" fill="#ff0000" stroke="#ff0000"/>
<polygon points="346.7,178.7 352,179.5 362.8,130.6 358.1,130" fill="#ff0002" stroke="#ff0002"/>
<polygon points="352,179.5 357.2,180.3 367.5,131.2 362.8,130.6" fill="#ff0006" stroke="#ff0006"/>
<polygon points="357.2,180.3 362.4,181.1 372.2,131.7 367.5,131.2" fill="#ff010b" stroke="#ff010b"/>
<polygon points="362.4,181.1 367.7,181.9 376.9,132.3 372.2,131.7" fill="#ff0112" stroke="#ff0112"/>
<polygon points="367.7,181.9 372.9,182.7 381.6,132.9 376.9,132.3" fill="#ff021b" stroke="#ff021b"/>
<polygon points="372.9,182.7 378.1,183.5 386.3,133.5 381.6,132.9" fill="#ff0325" stroke="#ff0325"/>
<polygon points="378.1,183.5 383.4,186.1 391,135.7 386.3,133.5" fill="#ff0431" stroke="#ff0431"/>
<polygon points="383.4,186.1 388.6,188.7 395.8,137.9 391,135.7" fill="#ff053e" stroke="#ff053e"/>
<polygon points="388.6,188.7 393.8,191.2 400.5,140.1 395.8,137.9" fill="#ff064d" stroke="#ff064d"/>
<polygon points="393.8,191.2 399.1,193.8 405.2,142.3 400.5,140.1" fill="#ff075e" stroke="#ff075e"/>
<polygon points="399.1,193.8 404.3,196.4 409.9,144.6 405.2,142.3" fill="#ff086f" stroke="#ff086f"/>
<polygon points="404.3,196.4 409.5,199 414.6,146.8 409.9,144.6" fill="#ff0982" stroke="#ff0982"/>
<polygon points="409.5,199 414.7,201.6 419.2,149 414.6,146.8" fill="#ff0b96" stroke="#ff0b96"/>
<polygon points="414.7,201.6 419.9,204.2 423.9,151.2 419.2,149" fill="#ff0cab" stroke="#ff0cab"/>
<polygon points="419.9,204.2 425.1,208.2 428.6,154.7 423.9,151.2" fill="#ff0dc1" stroke="#ff0dc1"/>
<polygon points="425.1,208.2 430.3,212.2 433.3,158.3 428.6,154.7" fill="#ff0fd8" stroke="#ff0fd8"/>
<polygon points="430.3,212.2 435.5,216.1 438,161.8 433.3,158.3" fill="#ff10f0" stroke="#ff10f0"/>
<polygon points="435.5,216.1 440.7,220.1 442.7,165.3 438,161.8" fill="#f512ff" stroke="#f512ff"/>
<polygon points="440.7,220.1 445.9,224.1 447.3,168.8 442.7,165.3" fill="#dc13ff" stroke="#dc13ff"/>
<polygon points="445.9,224.1 451.1,228.1 452,172.4 447.3,168.8" fill="#c214ff" stroke="#c214ff"/>
<polygon points="451.1,228.1 456.3,232.1 456.7,175.9 452,172.4" fill="#a716ff" stroke="#a716ff"/>
<polygon points="456.3,232.1 461.4,236 461.3,179.4 456.7,175.9" fill="#8c17ff" stroke="#8c17ff"/>
<polygon points="461.4,236 466.6,240.8 466,183.7 461.3,179.4" fill="#7118ff" stroke="#7118ff"/>
<polygon points="466.6,240.8 471.7,245.7 470.6,188.1 466,183.7" fill="#5519ff" stroke="#5519ff"/>
<polygon points="471.7,245.7 476.9,250.5 475.2,192.4 470.6,188.1" fill="#381aff" stroke="#381aff"/>
<polygon points="476.9,250.5 482,255.3 479.8,196.7 475.2,192.4" fill="#1b1bff" stroke="#1b1bff"/>
<polygon points="482,255.3 487.1,260.1 484.5,201.1 479.8,196.7" fill="#1c3aff" stroke="#1c3aff"/>
<polygon points="487.1,260.1 492.2,264.9 489.1,205.4 484.5,201.1" fill="#1d59ff" stroke="#1d59ff"/>
<polygon points="492.2,264.9 497.3,269.7 493.7,209.7 489.1,205.4" fill="#1d78ff" stroke="#1d78ff"/>
<polygon points="497.3,269.7 502.4,274.5 498.3,214 493.7,209.7" fill="#1e97ff" stroke="#1e97ff"/>
<polygon points="502.4,274.5 507.5,279.4 502.9,218.5 498.3,214" fill="#1eb6ff" stroke="#1eb6ff"/>
<polygon points="507.5,279.4 512.6,284.4 507.5,223.1 502.9,218.5" fill="#1ed5ff" stroke="#1ed5ff"/>
<polygon points="512.6,284.4 517.7,289.4 512,227.6 507.5,223.1" fill="#1ff5ff" stroke="#1ff5ff"/>
<polygon points="517.7,289.4 522.7,294.3 516.6,232.1 512,227.6" fill="#1fffea" stroke="#1fffea"/>
<polygon points="522.7,294.3 527.8,299.3 521.2,236.7 516.6,232.1" fill="#1effcb" stroke="#1effcb"/>
<polygon points="527.8,299.3 532.8,304.2 525.7,241.2 521.2,236.7" fill="#1effac" stroke="#1effac"/>
<polygon points="532.8,304.2 537.9,309.1 530.3,245.7 525.7,241.2" fill="#1eff8d" stroke="#1eff8d"/>
<polygon points="537.9,309.1 542.9,314.1 534.8,250.2 530.3,245.7" fill="#1dff6d" stroke="#1dff6d"/>
<polygon points="542.9,314.1 547.9,318.5 539.3,254.3 534.8,250.2" fill="#1dff4e" stroke="#1dff4e"/>
<polygon points="547.9,318.5 552.9,323 543.9,258.4 539.3,254.3" fill="#1cff2f" stroke="#1cff2f"/>
<polygon points="552.9,323 557.9,327.4 548.4,262.5 543.9,258.4" fill="#25ff1b" stroke="#25ff1b"/>
<polygon points="557.9,327.4 562.9,331.8 552.9,266.6 548.4,262.5" fill="#42ff1a" stroke="#42ff1a"/>
<polygon points="562.9,331.8 567.9,336.3 557.4,270.7 552.9,266.6" fill="#5eff19" stroke="#5eff19"/>
<polygon points="567.9,336.3 572.9,340.7 561.9,274.8 557.4,270.7" fill="#7aff18" stroke="#7aff18"/>
<polygon points="572.9,340.7 577.9,345.1 566.4,278.9 561.9,274.8" fill="#95ff16" stroke="#95ff16"/>
<polygon points="577.9,345.1 582.9,349.5 570.9,283 566.4,278.9" fill="#b0ff15" stroke="#b0ff15"/>
<polygon points="582.9,349.5 587.9,352.8 575.4,286.1 570.9,283" fill="#cbff14" stroke="#cbff14"/>
<polygon points="587.9,352.8 592.8,356.2 579.9,289.3 575.4,286.1" fill="#e4ff12" stroke="#e4ff12"/>
<polygon points="592.8,356.2 597.8,359.5 584.4,292.4 579.9,289.3" fill="#feff11" stroke="#feff11"/>
<polygon points="597.8,359.5 602.8,362.9 588.9,295.6 584.4,292.4" fill="#ffe810" stroke="#ffe810"/>
<polygon points="602.8,362.9 607.8,366.2 593.4,298.7 588.9,295.6" fill="#ffd10e" stroke="#ffd10e"/>
<polygon points="607.8,366.2 612.7,369.5 597.9,301.9 593.4,298.7" fill="#ffba0d" stroke="#ffba0d"/>
<polygon points="612.7,369.5 617.7,372.8 602.4,305 597.9,301.9" fill="#ffa40b" stroke="#ffa40b"/>
<polygon points="617.7,372.8 622.6,376.1 606.8,308.1 602.4,305" fill="#ff8f0a" stroke="#ff8f0a"/>
<polygon points="622.6,376.1 627.6,378 611.3,309.9 606.8,308.1" fill="#ff7c09" stroke="#ff7c09"/>
<polygon points="627.6,378 632.6,379.8 615.8,311.7 611.3,309.9" fill="#ff6908" stroke="#ff6908"/>
<polygon points="632.6,379.8 637.6,381.6 620.3,313.5 615.8,311.7" fill="#ff5806" stroke="#ff5806"/>
<polygon points="637.6,381.6 642.5,383.4 624.8,315.3 620.3,313.5" fill="#ff4805" stroke="#ff4805"/>
<polygon points="642.5,383.4 647.5,385.2 629.3,317.1 624.8,315.3" fill="#ff3a04" stroke="#ff3a04"/>
<polygon points="647.5,385.2 652.5,387 633.8,318.9 629.3,317.1" fill="#ff2d03" stroke="#ff2d03"/>
<polygon points="652.5,387 657.4,388.8 638.3,320.7 633.8,318.9" fill="#ff2102" stroke="#ff2102"/>
<polygon points="657.4,388.8 662.4,390.6 642.8,322.4 638.3,320.7" fill="#ff1802" stroke="#ff1802"/>
<polygon points="662.4,390.6 667.4,390.7 647.3,322.6 642.8,322.4" fill="#ff0f01" stroke="#ff0f01"/>
<polygon points="667.4,390.7 672.4,390.8 651.8,322.9 647.3,322.6" fill="#ff0901" stroke="#ff0901"/>
<polygon points="672.4,390.8 677.4,390.8 656.3,323.1 651.8,322.9" fill="#ff0400" stroke="#ff0400"/>
<polygon points="677.4,390.8 682.5,390.9 660.9,323.3 656.3,323.1" fill="#ff0100" stroke="#ff0100"/>
<polygon points="682.5,390.9 687.5,391 665.4,323.5 660.9,323.3" fill="#ff0000" stroke="#ff0000"/>
<polygon points="687.5,391 692.5,391 669.9,323.7 665.4,323.5" fill="#fe0100" stroke="#fe0100"/>
<polygon points="692.5,391 697.5,391.1 674.5,323.9 669.9,323.7" fill="#fd0300" stroke="#fd0300"/>
<polygon points="697.5,391.1 702.5,391.2 679,324.1 674.5,323.9" fill="#fa0600" stroke="#fa0600"/>
<polygon points="702.5,391.2 707.6,389.5 683.6,322.7 679,324.1" fill="#f70c00" stroke="#f70c00"/>
<polygon points="707.6,389.5 712.7,387.8 688.1,321.3 683.6,322.7" fill="#f41200" stroke="#f41200"/>
<polygon points="712.7,387.8 717.8,386.1 692.7,319.9 688.1,321.3" fill="#f01a00" stroke="#f01a00"/>
<polygon points="717.8,386.1 722.9,384.4 697.3,318.5 692.7,319.9" fill="#eb2300" stroke="#eb2300"/>
<polygon points="722.9,384.4 728,382.7 701.9,317.1 697.3,318.5" fill="#e72d00" stroke="#e72d00"/>
<polygon points="728,382.7 733.1,381.1 706.5,315.7 701.9,317.1" fill="#e23800" stroke="#e23800"/>
<polygon points="733.1,381.1 738.2,379.4 711.1,314.3 706.5,315.7" fill="#dd4300" stroke="#dd4300"/>
<polygon points="738.2,379.4 743.3,377.7 715.7,312.9 711.1,314.3" fill="#d75000" stroke="#d75000"/>
<polygon points="743.3,377.7 760.7,368.2 731.3,304.6 715.7,312.9" fill="#d55600" stroke="#d55600"/>
</g></g>
<g id="mesh" fill="none" stroke="#2b2b2b" stroke-width="1.3">
<path d="M215.5,232.4L274.8,110.3" stroke-opacity="0.32"/>
<path d="M249.7,203.1L300.8,86.5" stroke-opacity="0.32"/>
<path d="M284.4,180.9L327.2,67.5" stroke-opacity="0.58"/>
<path d="M319.6,168L353.8,55.3" stroke-opacity="0.88"/>
<path d="M355,165.8L380.6,51" stroke-opacity="0.88"/>
<path d="M390.6,174.4L407.5,55.2" stroke-opacity="0.88"/>
<path d="M426.1,193.2L434.3,67.4" stroke-opacity="0.88"/>
<path d="M461.4,220.2L461.1,86.6" stroke-opacity="0.88"/>
<path d="M496.3,252.9L487.7,111.2" stroke-opacity="0.88"/>
<path d="M530.8,286.6L514,137.4" stroke-opacity="0.88"/>
<path d="M565,318L540.1,162.6" stroke-opacity="0.88"/>
<path d="M598.9,344.1L566,184.4" stroke-opacity="0.88"/>
<path d="M632.7,362.6L591.9,200.9" stroke-opacity="0.88"/>
<path d="M666.7,371.8L617.8,210.5" stroke-opacity="0.88"/>
<path d="M700.9,370.8L643.9,212.2" stroke-opacity="0.88"/>
<path d="M187.3,255.3L196.7,246L206.1,236.6L215.6,227.2L225.1,217.8L234.6,209.8L244.2,201.7L253.8,193.7M192.5,245.3L201.7,236.1L211,226.9L220.3,217.6L229.6,208.4L239,200.4L248.4,192.5L257.8,184.6M197.5,235.6L206.6,226.6L215.7,217.5L224.8,208.4L233.9,199.3L243.1,191.5L252.4,183.7L261.6,175.8M202.4,226.3L211.3,217.4L220.2,208.5L229.1,199.5L238.1,190.6L247.2,182.9L256.2,175.1L265.3,167.4M207,217.4L215.8,208.6L224.5,199.8L233.3,191L242.2,182.1L251,174.6L260,166.9L268.9,159.3M211.5,208.7L220.1,200.1L228.7,191.4L237.4,182.7L246.1,174L254.8,166.5L263.5,159L272.3,151.5M215.9,200.4L224.3,191.9L232.8,183.3L241.3,174.8L249.8,166.2L258.4,158.8L267,151.4L275.6,143.9M220,192.3L228.4,183.9L236.7,175.5L245.1,167.1L253.4,158.7L261.9,151.4L270.3,144L278.8,136.7M224.1,184.5L232.3,176.3L240.5,168L248.7,159.7L256.9,151.4L265.2,144.1L273.5,136.9L281.9,129.6M228,177L236.1,168.9L244.1,160.7L252.2,152.5L260.3,144.3L268.5,137.2L276.7,130L284.9,122.9M231.8,169.7L239.7,161.7L247.7,153.7L255.6,145.6L263.6,137.5L271.6,130.4L279.7,123.4L287.7,116.3M235.5,162.7L243.3,154.8L251.1,146.8L258.9,138.9L266.8,130.9L274.7,123.9L282.6,116.9L290.5,109.9M239,155.8L246.7,148L254.4,140.2L262.1,132.4L269.8,124.5L277.6,117.6L285.4,110.7L293.2,103.8M242.5,149.2L250,141.5L257.6,133.8L265.2,126.1L272.8,118.3L280.5,111.5L288.2,104.7L295.8,97.8M245.8,142.8L253.2,135.2L260.7,127.6L268.2,120L275.7,112.3L283.2,105.6L290.8,98.8L298.4,92.1" stroke-opacity="0.32" stroke-width="0.9"/>
<path d="M253.8,193.7L263.5,185.6L273.2,180L283,174.5L287.9,171.7M257.8,184.6L267.3,176.6L276.8,171.1L286.4,165.6L291.2,162.9M261.6,175.8L270.9,168L280.3,162.5L289.7,157.1L294.4,154.3M265.3,167.4L274.4,159.7L283.7,154.3L292.9,148.9L297.5,146.2M268.9,159.3L277.8,151.6L286.9,146.3L295.9,140.9L300.5,138.3M272.3,151.5L281.1,143.9L290,138.6L298.9,133.3L303.3,130.7M275.6,143.9L284.3,136.5L293,131.2L301.7,126L306.1,123.3M278.8,136.7L287.3,129.3L295.9,124.1L304.5,118.9L308.8,116.3M281.9,129.6L290.2,122.4L298.7,117.2L307.1,112L311.3,109.4M284.9,122.9L293.1,115.7L301.4,110.5L309.7,105.4L313.8,102.8M287.7,116.3L295.8,109.2L304,104.1L312.1,99L316.2,96.5M290.5,109.9L298.5,102.9L306.5,97.9L314.5,92.8L318.6,90.3M293.2,103.8L301.1,96.9L309,91.8L316.9,86.8L320.8,84.3M295.8,97.8L303.6,91L311.3,86L319.1,81L323,78.5M298.4,92.1L306,85.3L313.6,80.4L321.3,75.4L325.1,72.9" stroke-opacity="0.58" stroke-width="1.1"/>
<path d="M287.9,171.7L292.8,168.9L302.5,163.3L312.4,161.1L322.3,158.9L332.2,156.6L342.1,154.4L352.1,155.7L362.1,157.1L372,158.5L382,159.9L392,164.8L401.9,169.6L411.9,174.4L421.8,179.2L431.7,186.8L441.6,194.3L451.5,201.9L461.4,209.4L471.2,218.6L481,227.8L490.8,236.9L500.5,246L510.2,255.6L519.8,265.1L529.5,274.6L539.1,284L548.7,292.6L558.2,301.2L567.8,309.7L577.3,318.3L586.8,324.8L596.3,331.3L605.7,337.7L615.2,344.2L624.7,347.8L634.2,351.4L643.7,355L653.2,358.6L662.7,358.9L672.3,359.1L681.9,359.4L691.5,359.7L701.2,356.6L710.9,353.5L720.6,350.3L730.3,347.2M291.2,162.9L296,160.1L305.6,154.6L315.3,152.3L325,150.1L334.7,147.8L344.4,145.5L354.2,146.8L364,148.1L373.7,149.5L383.5,150.8L393.3,155.5L403,160.2L412.8,164.8L422.5,169.5L432.3,176.9L442,184.3L451.7,191.7L461.4,199L471,208L480.6,217L490.2,226L499.7,234.9L509.2,244.3L518.7,253.7L528.2,263L537.6,272.3L547,280.8L556.4,289.2L565.7,297.7L575.1,306.1L584.4,312.5L593.7,318.9L603,325.3L612.3,331.7L621.6,335.3L631,338.9L640.3,342.5L649.6,346.1L659,346.4L668.4,346.7L677.8,347.1L687.1,347.4L696.7,344.4L706.2,341.4L715.7,338.4L725.3,335.4M294.4,154.3L299.1,151.6L308.5,146.1L318,143.9L327.6,141.6L337.1,139.3L346.6,137L356.2,138.3L365.8,139.5L375.4,140.7L384.9,142L394.5,146.5L404.1,151.1L413.7,155.6L423.3,160.2L432.8,167.4L442.3,174.6L451.8,181.8L461.3,189L470.8,197.9L480.2,206.7L489.6,215.5L499,224.3L508.3,233.5L517.6,242.7L526.9,251.9L536.2,261L545.4,269.4L554.6,277.7L563.8,286L573,294.3L582.1,300.7L591.3,307.1L600.4,313.4L609.5,319.7L618.7,323.3L627.8,326.9L637,330.5L646.1,334.1L655.3,334.4L664.6,334.8L673.8,335.2L683,335.5L692.3,332.6L701.7,329.7L711,326.8L720.4,323.9M297.5,146.2L302.1,143.4L311.3,138L320.7,135.7L330,133.4L339.4,131.1L348.7,128.9L358.1,130L367.5,131.2L376.9,132.3L386.3,133.5L395.8,137.9L405.2,142.3L414.6,146.8L423.9,151.2L433.3,158.3L442.7,165.3L452,172.4L461.3,179.4L470.6,188.1L479.8,196.7L489.1,205.4L498.3,214L507.5,223.1L516.6,232.1L525.7,241.2L534.8,250.2L543.9,258.4L552.9,266.6L561.9,274.8L570.9,283L579.9,289.3L588.9,295.6L597.9,301.9L606.8,308.1L615.8,311.7L624.8,315.3L633.8,318.9L642.8,322.4L651.8,322.9L660.9,323.3L669.9,323.7L679,324.1L688.1,321.3L697.3,318.5L706.5,315.7L715.7,312.9M300.5,138.3L305,135.6L314.1,130.2L323.2,127.9L332.4,125.6L341.6,123.3L350.7,121L360,122.1L369.2,123.1L378.4,124.2L387.7,125.3L396.9,129.6L406.2,133.9L415.4,138.2L424.6,142.5L433.8,149.4L443,156.4L452.1,163.2L461.3,170.1L470.4,178.6L479.5,187.2L488.6,195.6L497.6,204.1L506.6,213L515.6,221.9L524.5,230.8L533.5,239.7L542.4,247.8L551.3,255.9L560.1,264L569,272.1L577.8,278.3L586.6,284.5L595.5,290.8L604.2,297L613.1,300.5L621.9,304.1L630.7,307.7L639.5,311.2L648.4,311.7L657.3,312.1L666.2,312.6L675.1,313.1L684.1,310.4L693.1,307.6L702.1,304.9L711.2,302.2M303.3,130.7L307.8,128L316.7,122.7L325.7,120.4L334.7,118L343.7,115.7L352.7,113.4L361.8,114.4L370.8,115.4L379.9,116.4L389,117.4L398.1,121.6L407.1,125.8L416.2,130L425.2,134.2L434.3,140.9L443.3,147.7L452.3,154.4L461.3,161.2L470.2,169.5L479.2,177.9L488.1,186.2L496.9,194.5L505.8,203.3L514.6,212.1L523.4,220.8L532.2,229.6L540.9,237.6L549.7,245.6L558.4,253.6L567.1,261.5L575.8,267.7L584.4,273.9L593.1,280L601.7,286.2L610.4,289.7L619.1,293.3L627.8,296.9L636.4,300.4L645.2,300.9L653.9,301.4L662.6,301.9L671.4,302.4L680.2,299.8L689.1,297.2L697.9,294.6L706.8,291.9M306.1,123.3L310.5,120.7L319.2,115.4L328.1,113.1L336.9,110.7L345.8,108.4L354.6,106.1L363.5,107L372.4,108L381.3,108.9L390.2,109.8L399.1,113.9L408.1,118L417,122.1L425.8,126.1L434.7,132.7L443.6,139.4L452.4,146L461.2,152.5L470,160.8L478.8,169L487.6,177.1L496.3,185.3L505,194L513.7,202.6L522.3,211.2L530.9,219.8L539.6,227.7L548.1,235.6L556.7,243.5L565.2,251.3L573.8,257.4L582.3,263.6L590.8,269.7L599.3,275.8L607.9,279.3L616.4,282.9L624.9,286.4L633.4,289.9L642,290.5L650.6,291L659.2,291.6L667.8,292.1L676.5,289.6L685.2,287.1L693.9,284.5L702.6,282M308.8,116.3L313.1,113.6L321.7,108.4L330.3,106.1L339,103.7L347.7,101.4L356.4,99L365.2,99.9L373.9,100.8L382.7,101.6L391.4,102.5L400.2,106.5L409,110.4L417.7,114.4L426.4,118.3L435.2,124.8L443.9,131.3L452.6,137.8L461.2,144.2L469.9,152.3L478.5,160.3L487.1,168.4L495.7,176.4L504.2,184.9L512.8,193.4L521.3,201.9L529.8,210.3L538.2,218.2L546.7,225.9L555.1,233.7L563.5,241.5L571.9,247.5L580.3,253.6L588.6,259.6L597,265.7L605.4,269.2L613.8,272.8L622.2,276.3L630.5,279.8L639,280.4L647.4,281L655.8,281.6L664.3,282.2L672.8,279.7L681.4,277.3L689.9,274.9L698.5,272.4M311.3,109.4L315.6,106.8L324,101.6L332.6,99.3L341.1,96.9L349.6,94.6L358.2,92.2L366.8,93L375.4,93.8L384,94.6L392.6,95.4L401.2,99.3L409.8,103.1L418.4,107L427,110.8L435.6,117.2L444.1,123.5L452.7,129.8L461.2,136.2L469.7,144.1L478.2,152L486.7,159.9L495.1,167.8L503.5,176.2L511.9,184.5L520.3,192.9L528.6,201.2L536.9,208.9L545.2,216.6L553.5,224.3L561.8,231.9L570,238L578.3,244L586.5,249.9L594.7,255.9L603,259.5L611.2,263L619.5,266.5L627.7,270.1L636,270.7L644.3,271.3L652.6,271.9L660.9,272.6L669.3,270.2L677.7,267.9L686.1,265.5L694.5,263.1M313.8,102.8L318,100.3L326.3,95.1L334.7,92.7L343.1,90.4L351.5,88L359.9,85.6L368.4,86.4L376.8,87.1L385.3,87.8L393.7,88.6L402.2,92.3L410.7,96.1L419.1,99.8L427.6,103.6L436,109.8L444.4,116L452.8,122.2L461.2,128.4L469.6,136.2L477.9,143.9L486.2,151.7L494.5,159.4L502.8,167.7L511,175.9L519.3,184.2L527.5,192.4L535.7,200L543.8,207.6L552,215.2L560.1,222.7L568.2,228.7L576.4,234.6L584.5,240.6L592.6,246.5L600.7,250L608.8,253.5L616.9,257.1L625,260.6L633.2,261.3L641.3,261.9L649.5,262.6L657.7,263.3L665.9,261L674.2,258.7L682.4,256.4L690.7,254.2M316.2,96.5L320.3,93.9L328.5,88.8L336.8,86.4L345,84L353.3,81.6L361.6,79.3L369.9,79.9L378.2,80.6L386.5,81.3L394.8,82L403.1,85.6L411.5,89.3L419.8,92.9L428.1,96.6L436.4,102.6L444.7,108.7L452.9,114.8L461.2,120.9L469.4,128.5L477.6,136.1L485.8,143.8L494,151.4L502.1,159.5L510.2,167.6L518.3,175.7L526.4,183.8L534.5,191.4L542.5,198.9L550.5,206.3L558.5,213.8L566.5,219.7L574.5,225.6L582.5,231.5L590.4,237.3L598.4,240.9L606.4,244.4L614.4,247.9L622.4,251.4L630.4,252.1L638.4,252.8L646.5,253.5L654.5,254.2L662.6,252L670.8,249.8L678.9,247.7L687,245.5M318.6,90.3L322.6,87.7L330.6,82.7L338.8,80.3L346.9,77.9L355,75.5L363.2,73.1L371.3,73.7L379.5,74.3L387.7,75L395.9,75.6L404.1,79.1L412.3,82.7L420.4,86.2L428.6,89.8L436.8,95.7L444.9,101.7L453,107.6L461.2,113.6L469.3,121.1L477.3,128.6L485.4,136.1L493.4,143.6L501.4,151.6L509.4,159.6L517.4,167.6L525.3,175.5L533.3,183L541.2,190.4L549.1,197.8L557,205.2L564.8,211L572.7,216.9L580.6,222.7L588.4,228.5L596.3,232L604.1,235.5L612,239L619.8,242.5L627.7,243.3L635.6,244L643.5,244.8L651.4,245.5L659.4,243.4L667.4,241.3L675.4,239.1L683.4,237M320.8,84.3L324.8,81.8L332.7,76.8L340.7,74.4L348.7,72L356.7,69.6L364.7,67.1L372.8,67.7L380.8,68.3L388.8,68.8L396.9,69.4L405,72.9L413,76.3L421.1,79.8L429.1,83.2L437.1,89L445.2,94.9L453.2,100.7L461.1,106.5L469.1,113.9L477.1,121.3L485,128.7L492.9,136L500.8,143.9L508.7,151.8L516.5,159.7L524.3,167.5L532.1,174.9L539.9,182.2L547.7,189.5L555.5,196.8L563.2,202.6L571,208.4L578.7,214.2L586.4,219.9L594.2,223.4L601.9,226.9L609.6,230.4L617.3,233.9L625.1,234.7L632.9,235.5L640.7,236.3L648.5,237L656.3,235L664.2,232.9L672.1,230.9L680,228.9M323,78.5L326.9,76L334.7,71L342.6,68.6L350.4,66.2L358.3,63.8L366.2,61.4L374.1,61.9L382,62.4L390,62.9L397.9,63.4L405.8,66.8L413.8,70.1L421.7,73.5L429.6,76.8L437.5,82.6L445.4,88.3L453.3,94L461.1,99.7L469,107L476.8,114.2L484.6,121.5L492.4,128.7L500.2,136.5L507.9,144.3L515.6,152L523.3,159.7L531,167L538.7,174.2L546.4,181.5L554,188.7L561.6,194.4L569.3,200.2L576.9,205.9L584.5,211.6L592.1,215.1L599.7,218.6L607.4,222.1L615,225.6L622.6,226.4L630.3,227.2L637.9,228L645.6,228.8L653.4,226.9L661.1,224.9L668.9,222.9L676.6,220.9M325.1,72.9L329,70.5L336.6,65.5L344.4,63.1L352.1,60.6L359.9,58.2L367.6,55.8L375.5,56.2L383.2,56.7L391,57.2L398.8,57.6L406.7,60.9L414.5,64.1L422.3,67.4L430.1,70.7L437.8,76.3L445.6,81.9L453.4,87.5L461.1,93.1L468.8,100.2L476.6,107.3L484.2,114.5L491.9,121.6L499.6,129.3L507.2,136.9L514.8,144.6L522.4,152.2L530,159.4L537.5,166.5L545.1,173.7L552.6,180.8L560.1,186.5L567.6,192.2L575.1,197.9L582.6,203.5L590.1,207L597.6,210.5L605.1,214L612.6,217.5L620.2,218.3L627.7,219.2L635.3,220L642.8,220.9L650.5,219L658.1,217.1L665.7,215.2L673.4,213.3" stroke-opacity="0.9" stroke-width="1.3"/>
</g>
<g fill="none" stroke="#0a0a0a" stroke-linejoin="round" stroke-linecap="round">
<path d="M249,136.6L256.4,129.1L263.7,121.6L271.1,114.1L278.5,106.5L285.9,99.9L293.4,93.2L300.8,86.5" stroke-width="0.9" stroke-opacity="0.6"/>
<path d="M300.8,86.5L308.3,79.8L315.9,74.9L323.4,70L331,65L338.5,60.1L346.2,57.7L353.8,55.3L361.4,52.8L369.1,50.4L376.7,50.8L384.4,51.2L392.1,51.6L399.8,52L407.5,55.2L415.2,58.3L422.8,61.5L430.5,64.7L438.2,70.2L445.8,75.7L453.5,81.2L461.1,86.6L468.7,93.7L476.3,100.7L483.9,107.7L491.4,114.7L499,122.3L506.5,129.8L514,137.4L521.5,144.9L528.9,152L536.4,159L543.8,166.1L551.2,173.1L558.6,178.8L566,184.4L573.4,190.1L580.8,195.7L588.2,199.2L595.6,202.7L603,206.1L610.4,209.6L617.8,210.5L625.3,211.4L632.7,212.2L640.1,213.1L647.6,211.3L655.1,209.5L662.7,207.6L670.2,205.8" stroke-width="1.4"/>
<path d="M181.9,265.8L249,136.6" stroke-width="1.2"/>
<path d="M735.6,359.6L670.2,205.8" stroke-width="1.8"/>
<path d="M181.9,265.8L191.4,256.3L201,246.7L210.7,237.2L220.4,227.6L230.1,219.4L239.9,211.3L249.7,203.1L259.5,194.9L269.5,189.3L279.4,183.7L289.4,178.1L299.4,172.5L309.5,170.2L319.6,168L329.6,165.8L339.8,163.5L349.9,165L360.1,166.5L370.3,168L380.4,169.5L390.6,174.4L400.8,179.4L410.9,184.4L421,189.3L431.2,197.1L441.3,204.8L451.4,212.5L461.4,220.2L471.4,229.6L481.4,238.9L491.4,248.2L501.3,257.5L511.2,267.3L521,276.9L530.8,286.6L540.6,296.2L550.4,304.9L560.1,313.6L569.9,322.3L579.5,330.9L589.2,337.5L598.9,344.1L608.6,350.6L618.2,357.2L627.9,360.8L637.6,364.4L647.3,368L656.9,371.6L666.7,371.8L676.4,372L686.2,372.2L696,372.4L705.9,369.2L715.8,366L725.7,362.8L735.6,359.6" stroke-width="2.2"/>
</g>
<g id="box-front" stroke-linecap="round">
<line x1="162.7" y1="161.5" x2="759.3" y2="161.3" stroke="#9c9c9c" stroke-width="2.4" stroke-opacity="0.72"/>
<line x1="759.3" y1="161.3" x2="748.4" y2="382.6" stroke="#8f8f8f" stroke-width="1.3"/>
<line x1="162.7" y1="161.5" x2="173.2" y2="383.5" stroke="#1c1c1c" stroke-width="2.2"/>
<line x1="173.2" y1="383.5" x2="748.4" y2="382.6" stroke="#1c1c1c" stroke-width="2.2"/>
<line x1="684" y1="44.1" x2="759.3" y2="161.3" stroke="#303030" stroke-width="1.7"/>
</g>
<g id="ticks3d" stroke="#2a2a2a" stroke-width="1.6">
<line x1="185.3" y1="383.5" x2="185.3" y2="374.8" stroke="#444" stroke-width="1.9"/>
<line x1="240.5" y1="383.4" x2="240.5" y2="378.4" stroke="#444" stroke-width="1.9"/>
<line x1="295.8" y1="383.3" x2="295.8" y2="378.3" stroke="#444" stroke-width="1.9"/>
<line x1="351" y1="383.2" x2="351" y2="378.2" stroke="#444" stroke-width="1.9"/>
<line x1="406.1" y1="383.1" x2="406.1" y2="374.4" stroke="#444" stroke-width="1.9"/>
<line x1="461.3" y1="383.1" x2="461.3" y2="378.1" stroke="#444" stroke-width="1.9"/>
<line x1="516.4" y1="383" x2="516.4" y2="378" stroke="#444" stroke-width="1.9"/>
<line x1="571.4" y1="382.9" x2="571.4" y2="377.9" stroke="#444" stroke-width="1.9"/>
<line x1="626.5" y1="382.8" x2="626.5" y2="374.1" stroke="#444" stroke-width="1.9"/>
<line x1="681.5" y1="382.7" x2="681.5" y2="377.7" stroke="#444" stroke-width="1.9"/>
<line x1="736.4" y1="382.6" x2="736.4" y2="377.6" stroke="#444" stroke-width="1.9"/>
<line x1="173.2" y1="382.3" x2="178.2" y2="382.3" stroke="#444" stroke-width="1.9"/>
<line x1="172.6" y1="370.5" x2="177.6" y2="370.5" stroke="#444" stroke-width="1.9"/>
<line x1="172" y1="358.7" x2="177" y2="358.7" stroke="#444" stroke-width="1.9"/>
<line x1="171.5" y1="346.8" x2="176.5" y2="346.8" stroke="#444" stroke-width="1.9"/>
<line x1="170.9" y1="334.9" x2="179.9" y2="334.8" stroke="#444" stroke-width="1.9"/>
<line x1="170.3" y1="322.9" x2="175.3" y2="322.9" stroke="#444" stroke-width="1.9"/>
<line x1="169.8" y1="310.9" x2="174.8" y2="310.8" stroke="#444" stroke-width="1.9"/>
<line x1="169.2" y1="298.8" x2="174.2" y2="298.8" stroke="#444" stroke-width="1.9"/>
<line x1="168.6" y1="286.7" x2="173.6" y2="286.7" stroke="#444" stroke-width="1.9"/>
<line x1="168" y1="274.5" x2="177" y2="274.4" stroke="#444" stroke-width="1.9"/>
<line x1="167.5" y1="262.3" x2="172.5" y2="262.3" stroke="#444" stroke-width="1.9"/>
<line x1="166.9" y1="250.1" x2="171.9" y2="250" stroke="#444" stroke-width="1.9"/>
<line x1="166.3" y1="237.7" x2="171.3" y2="237.7" stroke="#444" stroke-width="1.9"/>
<line x1="165.7" y1="225.4" x2="170.7" y2="225.3" stroke="#444" stroke-width="1.9"/>
<line x1="165.1" y1="213" x2="174.1" y2="212.9" stroke="#444" stroke-width="1.9"/>
<line x1="164.5" y1="200.5" x2="169.5" y2="200.4" stroke="#444" stroke-width="1.9"/>
<line x1="163.9" y1="188" x2="168.9" y2="187.9" stroke="#444" stroke-width="1.9"/>
<line x1="163.3" y1="175.4" x2="168.3" y2="175.3" stroke="#444" stroke-width="1.9"/>
<line x1="162.7" y1="162.8" x2="167.7" y2="162.7" stroke="#444" stroke-width="1.9"/>
<line x1="757.4" y1="158.3" x2="748.4" y2="156.8" stroke="#555" stroke-width="1.6"/>
<line x1="752.7" y1="151" x2="747.7" y2="150.1" stroke="#555" stroke-width="1.6"/>
<line x1="748.1" y1="143.9" x2="743.1" y2="143.1" stroke="#555" stroke-width="1.6"/>
<line x1="743.7" y1="137" x2="738.7" y2="136.2" stroke="#555" stroke-width="1.6"/>
<line x1="739.4" y1="130.4" x2="734.4" y2="129.5" stroke="#555" stroke-width="1.6"/>
<line x1="735.3" y1="123.9" x2="726.3" y2="122.4" stroke="#555" stroke-width="1.6"/>
<line x1="731.3" y1="117.6" x2="726.3" y2="116.8" stroke="#555" stroke-width="1.6"/>
<line x1="727.3" y1="111.6" x2="722.3" y2="110.7" stroke="#555" stroke-width="1.6"/>
<line x1="723.5" y1="105.6" x2="718.5" y2="104.8" stroke="#555" stroke-width="1.6"/>
<line x1="719.8" y1="99.9" x2="714.8" y2="99" stroke="#555" stroke-width="1.6"/>
<line x1="716.3" y1="94.3" x2="707.3" y2="92.8" stroke="#555" stroke-width="1.6"/>
<line x1="712.8" y1="88.9" x2="707.8" y2="88" stroke="#555" stroke-width="1.6"/>
<line x1="709.4" y1="83.6" x2="704.4" y2="82.7" stroke="#555" stroke-width="1.6"/>
<line x1="706.1" y1="78.4" x2="701.1" y2="77.6" stroke="#555" stroke-width="1.6"/>
<line x1="702.8" y1="73.4" x2="697.8" y2="72.5" stroke="#555" stroke-width="1.6"/>
<line x1="699.7" y1="68.5" x2="690.7" y2="67" stroke="#555" stroke-width="1.6"/>
<line x1="696.6" y1="63.7" x2="691.6" y2="62.9" stroke="#555" stroke-width="1.6"/>
<line x1="693.6" y1="59.1" x2="688.6" y2="58.2" stroke="#555" stroke-width="1.6"/>
<line x1="690.7" y1="54.6" x2="685.7" y2="53.7" stroke="#555" stroke-width="1.6"/>
<line x1="687.9" y1="50.1" x2="682.9" y2="49.3" stroke="#555" stroke-width="1.6"/>
<line x1="685.1" y1="45.8" x2="676.1" y2="44.3" stroke="#555" stroke-width="1.6"/>
</g>
<text x="153.6" y="220.4" class="b" text-anchor="end">0.001</text>
<text x="157.6" y="282.7" class="b" text-anchor="end">0.000</text>
<text x="159.6" y="343.8" class="b" text-anchor="end">−0.001</text>
<text y="280.3" class="b"><tspan x="2" font-style="italic">S</tspan><tspan x="17.5" font-size="20.5px" dy="6.5">25</tspan><tspan x="43.6" dy="-6.5">(</tspan><tspan x="52.5" font-style="italic">k</tspan><tspan x="65.5">,</tspan><tspan x="80.5" font-style="italic">t</tspan><tspan x="88.6">)</tspan></text>
<text x="185.2" y="411" class="b" text-anchor="middle">0</text>
<text x="405" y="411" class="b" text-anchor="middle">2</text>
<text x="625" y="411" class="b" text-anchor="middle">4</text>
<text x="459.5" y="442.5" class="b" text-anchor="middle" font-style="italic">k</text>
<text x="697.6" y="52.2" class="b" text-anchor="middle">2</text>
<text x="712.4" y="74.9" class="b" text-anchor="middle">1</text>
<text x="728.5" y="101" class="b" text-anchor="middle">0</text>
<text x="758" y="101" class="b" text-anchor="middle" font-style="italic">t</text>
<text x="765.5" y="130.6" class="b" text-anchor="end">−1</text>
<text x="789" y="165.4" class="b" text-anchor="end">−2</text>
<g stroke="#6a6a6a" stroke-width="1.4" fill="none">
<path d="M1052.9,247H1740.4M1066.9,36V459"/>
<path d="M1093.3,247v-3.8M1119.7,247v-3.8M1146,247v-3.8M1172.4,247v-3.8M1198.8,247v-6.8M1225.2,247v-3.8M1251.6,247v-3.8M1277.9,247v-3.8M1304.3,247v-3.8M1330.7,247v-6.8M1357.1,247v-3.8M1383.5,247v-3.8M1409.8,247v-3.8M1436.2,247v-3.8M1462.6,247v-6.8M1489,247v-3.8M1515.4,247v-3.8M1541.7,247v-3.8M1568.1,247v-3.8M1594.5,247v-6.8M1620.9,247v-3.8M1647.3,247v-3.8M1673.6,247v-3.8M1700,247v-3.8M1726.4,247v-6.8M1066.9,456.8h3.8M1066.9,445.7h3.8M1066.9,434.7h3.8M1066.9,423.6h3.8M1066.9,412.6h6.8M1066.9,401.6h3.8M1066.9,390.5h3.8M1066.9,379.5h3.8M1066.9,368.4h3.8M1066.9,357.4h6.8M1066.9,346.4h3.8M1066.9,335.3h3.8M1066.9,324.3h3.8M1066.9,313.2h3.8M1066.9,302.2h6.8M1066.9,291.2h3.8M1066.9,280.1h3.8M1066.9,269.1h3.8M1066.9,258h3.8M1066.9,236h3.8M1066.9,224.9h3.8M1066.9,213.9h3.8M1066.9,202.8h3.8M1066.9,191.8h6.8M1066.9,180.8h3.8M1066.9,169.7h3.8M1066.9,158.7h3.8M1066.9,147.6h3.8M1066.9,136.6h6.8M1066.9,125.6h3.8M1066.9,114.5h3.8M1066.9,103.5h3.8M1066.9,92.4h3.8M1066.9,81.4h6.8M1066.9,70.4h3.8M1066.9,59.3h3.8M1066.9,48.3h3.8M1066.9,37.2h3.8" stroke-width="1.2"/>
</g>
<text x="1198.8" y="273.6" class="tk" text-anchor="middle">1</text>
<text x="1330.7" y="273.6" class="tk" text-anchor="middle">2</text>
<text x="1462.6" y="273.6" class="tk" text-anchor="middle">3</text>
<text x="1594.5" y="273.6" class="tk" text-anchor="middle">4</text>
<text x="1726.4" y="273.6" class="tk" text-anchor="middle">5</text>
<text x="1059.7" y="89.3" class="tk" text-anchor="end">0.0015</text>
<text x="1059.7" y="144.5" class="tk" text-anchor="end">0.0010</text>
<text x="1059.7" y="199.7" class="tk" text-anchor="end">0.0005</text>
<text x="1059.7" y="310.1" class="tk" text-anchor="end">0.0005</text>
<text x="993.3" y="310.1" class="tk" text-anchor="end">−</text>
<text x="1059.7" y="365.3" class="tk" text-anchor="end">0.0010</text>
<text x="993.3" y="365.3" class="tk" text-anchor="end">−</text>
<text x="1059.7" y="420.5" class="tk" text-anchor="end">0.0015</text>
<text x="993.3" y="420.5" class="tk" text-anchor="end">−</text>
<text x="1066.9" y="16.7" class="al" text-anchor="middle" font-size="24px">t</text>
<text x="1763.9" y="253.3" class="al" text-anchor="middle">k</text>
<path d="M1066.9,247L1073.5,237L1080.1,227.1L1086.7,217.2L1093.3,207.4L1099.9,197.6L1106.5,188.1L1113.1,178.6L1119.7,169.4L1126.3,160.4L1132.9,151.6L1139.4,143.1L1146,134.8L1152.6,126.9L1159.2,119.2L1165.8,112L1172.4,105L1179,98.5L1185.6,92.4L1192.2,86.7L1198.8,81.4L1205.4,76.6L1212,72.2L1218.6,68.3L1225.2,64.9L1231.8,61.9L1238.4,59.5L1245,57.6L1251.6,56.2L1258.2,55.3L1264.8,54.9L1271.3,55.1L1277.9,55.7L1284.5,56.9L1291.1,58.6L1297.7,60.8L1304.3,63.5L1310.9,66.7L1317.5,70.4L1324.1,74.5L1330.7,79.2L1337.3,84.2L1343.9,89.8L1350.5,95.7L1357.1,102.1L1363.7,108.8L1370.3,115.9L1376.9,123.4L1383.5,131.2L1390.1,139.3L1396.7,147.7L1403.2,156.4L1409.8,165.3L1416.4,174.5L1423,183.8L1429.6,193.3L1436.2,203L1442.8,212.7L1449.4,222.6L1456,232.5L1462.6,242.5L1469.2,252.5L1475.8,262.5L1482.4,272.4L1489,282.2L1495.6,292L1502.2,301.6L1508.8,311.1L1515.4,320.5L1522,329.6L1528.6,338.5L1535.1,347.1L1541.7,355.5L1548.3,363.6L1554.9,371.4L1561.5,378.8L1568.1,385.9L1574.7,392.6L1581.3,398.9L1587.9,404.8L1594.5,410.3L1601.1,415.3L1607.7,419.9L1614.3,424L1620.9,427.7L1627.5,430.8L1634.1,433.5L1640.7,435.6L1647.3,437.2L1653.9,438.4L1660.5,439L1667,439.1L1673.6,438.6L1680.2,437.7L1686.8,436.2L1693.4,434.3L1700,431.8L1706.6,428.8L1713.2,425.3L1719.8,421.4L1726.4,417" fill="none" stroke="#ff0000" stroke-width="3" stroke-linejoin="round"/>
<path d="M1066.9,293.9L1073.5,284.2L1080.1,274.3L1086.7,264.4L1093.3,254.4L1099.9,244.5L1106.5,234.5L1113.1,224.5L1119.7,214.7L1126.3,204.9L1132.9,195.2L1139.4,185.7L1146,176.3L1152.6,167.1L1159.2,158.1L1165.8,149.4L1172.4,140.9L1179,132.8L1185.6,124.9L1192.2,117.4L1198.8,110.2L1205.4,103.4L1212,96.9L1218.6,90.9L1225.2,85.3L1231.8,80.1L1238.4,75.4L1245,71.2L1251.6,67.4L1258.2,64.1L1264.8,61.3L1271.3,59L1277.9,57.2L1284.5,55.9L1291.1,55.1L1297.7,54.9L1304.3,55.2L1310.9,56L1317.5,57.3L1324.1,59.1L1330.7,61.4L1337.3,64.3L1343.9,67.6L1350.5,71.4L1357.1,75.7L1363.7,80.4L1370.3,85.6L1376.9,91.2L1383.5,97.3L1390.1,103.7L1396.7,110.6L1403.2,117.8L1409.8,125.3L1416.4,133.2L1423,141.4L1429.6,149.9L1436.2,158.6L1442.8,167.6L1449.4,176.8L1456,186.2L1462.6,195.8L1469.2,205.4L1475.8,215.2L1482.4,225.1L1489,235.1L1495.6,245L1502.2,255L1508.8,265L1515.4,274.9L1522,284.7L1528.6,294.5L1535.1,304.1L1541.7,313.5L1548.3,322.8L1554.9,331.9L1561.5,340.7L1568.1,349.3L1574.7,357.6L1581.3,365.6L1587.9,373.3L1594.5,380.6L1601.1,387.6L1607.7,394.2L1614.3,400.4L1620.9,406.2L1627.5,411.6L1634.1,416.5L1640.7,421L1647.3,425L1653.9,428.5L1660.5,431.5L1667,434L1673.6,436.1L1680.2,437.6L1686.8,438.6L1693.4,439L1700,439L1706.6,438.4L1713.2,437.4L1719.8,435.8L1726.4,433.7" fill="none" stroke="#800080" stroke-width="3" stroke-linejoin="round"/>
<path d="M1066.9,336.9L1073.5,327.9L1080.1,318.8L1086.7,309.4L1093.3,299.9L1099.9,290.3L1106.5,280.5L1113.1,270.6L1119.7,260.7L1126.3,250.7L1132.9,240.7L1139.4,230.7L1146,220.8L1152.6,211L1159.2,201.2L1165.8,191.6L1172.4,182.1L1179,172.8L1185.6,163.7L1192.2,154.8L1198.8,146.2L1205.4,137.8L1212,129.8L1218.6,122L1225.2,114.6L1231.8,107.6L1238.4,100.9L1245,94.6L1251.6,88.7L1258.2,83.3L1264.8,78.3L1271.3,73.8L1277.9,69.7L1284.5,66.1L1291.1,63L1297.7,60.4L1304.3,58.2L1310.9,56.6L1317.5,55.6L1324.1,55L1330.7,54.9L1337.3,55.4L1343.9,56.4L1350.5,57.9L1357.1,59.9L1363.7,62.4L1370.3,65.4L1376.9,69L1383.5,72.9L1390.1,77.4L1396.7,82.3L1403.2,87.7L1409.8,93.5L1416.4,99.7L1423,106.3L1429.6,113.2L1436.2,120.6L1442.8,128.3L1449.4,136.3L1456,144.6L1462.6,153.2L1469.2,162L1475.8,171.1L1482.4,180.3L1489,189.8L1495.6,199.4L1502.2,209.1L1508.8,218.9L1515.4,228.9L1522,238.8L1528.6,248.8L1535.1,258.8L1541.7,268.7L1548.3,278.6L1554.9,288.4L1561.5,298.1L1568.1,307.6L1574.7,317L1581.3,326.2L1587.9,335.2L1594.5,344L1601.1,352.4L1607.7,360.6L1614.3,368.5L1620.9,376.1L1627.5,383.3L1634.1,390.2L1640.7,396.6L1647.3,402.7L1653.9,408.3L1660.5,413.5L1667,418.3L1673.6,422.5L1680.2,426.4L1686.8,429.7L1693.4,432.5L1700,434.9L1706.6,436.7L1713.2,438L1719.8,438.8L1726.4,439.1" fill="none" stroke="#00ff00" stroke-width="3" stroke-linejoin="round"/>
<rect x="1543.6" y="86.2" width="24.6" height="7" fill="#f00000"/>
<text x="1576.5" y="94.9" class="lg" text-anchor="start">t = 0</text>
<rect x="1545.2" y="123.8" width="24.7" height="7.3" fill="#64006f"/>
<text x="1576.5" y="132.7" class="lg" text-anchor="start">t = 10</text>
<rect x="1545.2" y="167.2" width="24.7" height="6.8" fill="#5cf000"/>
<text x="1578.1" y="175.6" class="lg" text-anchor="start">t = 20</text>
<g stroke="#6a6a6a" stroke-width="1.4" fill="none">
<path d="M564.4,849.1H1251.9M578.4,638.1V1061.1"/>
<path d="M604.8,849.1v-3.8M631.2,849.1v-3.8M657.5,849.1v-3.8M683.9,849.1v-3.8M710.3,849.1v-6.8M736.7,849.1v-3.8M763.1,849.1v-3.8M789.4,849.1v-3.8M815.8,849.1v-3.8M842.2,849.1v-6.8M868.6,849.1v-3.8M895,849.1v-3.8M921.3,849.1v-3.8M947.7,849.1v-3.8M974.1,849.1v-6.8M1000.5,849.1v-3.8M1026.9,849.1v-3.8M1053.2,849.1v-3.8M1079.6,849.1v-3.8M1106,849.1v-6.8M1132.4,849.1v-3.8M1158.8,849.1v-3.8M1185.1,849.1v-3.8M1211.5,849.1v-3.8M1237.9,849.1v-6.8M578.4,1058.9h3.8M578.4,1047.8h3.8M578.4,1036.8h3.8M578.4,1025.7h3.8M578.4,1014.7h6.8M578.4,1003.7h3.8M578.4,992.6h3.8M578.4,981.6h3.8M578.4,970.5h3.8M578.4,959.5h6.8M578.4,948.5h3.8M578.4,937.4h3.8M578.4,926.4h3.8M578.4,915.3h3.8M578.4,904.3h6.8M578.4,893.3h3.8M578.4,882.2h3.8M578.4,871.2h3.8M578.4,860.1h3.8M578.4,838.1h3.8M578.4,827h3.8M578.4,816h3.8M578.4,804.9h3.8M578.4,793.9h6.8M578.4,782.9h3.8M578.4,771.8h3.8M578.4,760.8h3.8M578.4,749.7h3.8M578.4,738.7h6.8M578.4,727.7h3.8M578.4,716.6h3.8M578.4,705.6h3.8M578.4,694.5h3.8M578.4,683.5h6.8M578.4,672.5h3.8M578.4,661.4h3.8M578.4,650.4h3.8M578.4,639.3h3.8" stroke-width="1.2"/>
</g>
<text x="710.3" y="875.7" class="tk" text-anchor="middle">1</text>
<text x="842.2" y="875.7" class="tk" text-anchor="middle">2</text>
<text x="974.1" y="875.7" class="tk" text-anchor="middle">3</text>
<text x="1106" y="875.7" class="tk" text-anchor="middle">4</text>
<text x="1237.9" y="875.7" class="tk" text-anchor="middle">5</text>
<text x="571.2" y="691.4" class="tk" text-anchor="end">0.0015</text>
<text x="571.2" y="746.6" class="tk" text-anchor="end">0.0010</text>
<text x="571.2" y="801.8" class="tk" text-anchor="end">0.0005</text>
<text x="571.2" y="912.2" class="tk" text-anchor="end">0.0005</text>
<text x="504.8" y="912.2" class="tk" text-anchor="end">−</text>
<text x="571.2" y="967.4" class="tk" text-anchor="end">0.0010</text>
<text x="504.8" y="967.4" class="tk" text-anchor="end">−</text>
<text x="571.2" y="1022.6" class="tk" text-anchor="end">0.0015</text>
<text x="504.8" y="1022.6" class="tk" text-anchor="end">−</text>
<text x="578.4" y="618.8" class="al" text-anchor="middle" font-size="24px">t</text>
<text x="1275.4" y="855.4" class="al" text-anchor="middle">k</text>
<path d="M578.4,976.4L585,968.8L591.6,960.8L598.2,952.5L604.8,944L611.4,935.2L618,926.1L624.6,916.9L631.2,907.5L637.8,897.9L644.4,888.2L650.9,878.3L657.5,868.4L664.1,858.5L670.7,848.5L677.3,838.5L683.9,828.6L690.5,818.7L697.1,808.9L703.7,799.2L710.3,789.6L716.9,780.2L723.5,771L730.1,762L736.7,753.2L743.3,744.7L749.9,736.4L756.5,728.5L763.1,720.9L769.7,713.6L776.2,706.7L782.8,700.2L789.4,694.1L796,688.4L802.6,683.2L809.2,678.4L815.8,674L822.4,670.2L829,666.8L835.6,663.9L842.2,661.5L848.8,659.6L855.4,658.2L862,657.4L868.6,657L875.2,657.2L881.8,657.9L888.4,659.1L895,660.8L901.6,663L908.1,665.8L914.7,669L921.3,672.7L927.9,676.9L934.5,681.6L941.1,686.7L947.7,692.2L954.3,698.2L960.9,704.6L967.5,711.3L974.1,718.5L980.7,726L987.3,733.8L993.9,741.9L1000.5,750.3L1007.1,759L1013.7,768L1020.3,777.1L1026.9,786.5L1033.5,796L1040,805.7L1046.6,815.4L1053.2,825.3L1059.8,835.2L1066.4,845.2L1073,855.2L1079.6,865.2L1086.2,875.1L1092.8,884.9L1099.4,894.7L1106,904.3L1112.6,913.8L1119.2,923.1L1125.8,932.2L1132.4,941.1L1139,949.7L1145.6,958.1L1152.2,966.2L1158.8,973.9L1165.4,981.3L1172,988.4L1178.5,995.1L1185.1,1001.4L1191.7,1007.2L1198.3,1012.7L1204.9,1017.7L1211.5,1022.3L1218.1,1026.3L1224.7,1030L1231.3,1033.1L1237.9,1035.7" fill="none" stroke="#ff0000" stroke-width="3" stroke-linejoin="round"/>
<path d="M578.4,913.7L585,904.2L591.6,894.5L598.2,884.8L604.8,874.9L611.4,865L618,855L624.6,845.1L631.2,835.1L637.8,825.2L644.4,815.3L650.9,805.5L657.5,795.9L664.1,786.3L670.7,777L677.3,767.8L683.9,758.9L690.5,750.2L697.1,741.8L703.7,733.7L710.3,725.8L716.9,718.4L723.5,711.2L730.1,704.5L736.7,698.1L743.3,692.1L749.9,686.6L756.5,681.5L763.1,676.8L769.7,672.7L776.2,668.9L782.8,665.7L789.4,663L796,660.8L802.6,659.1L809.2,657.9L815.8,657.2L822.4,657L829,657.4L835.6,658.2L842.2,659.6L848.8,661.5L855.4,663.9L862,666.8L868.6,670.2L875.2,674.1L881.8,678.4L888.4,683.3L895,688.5L901.6,694.2L908.1,700.3L914.7,706.8L921.3,713.7L927.9,721L934.5,728.6L941.1,736.5L947.7,744.8L954.3,753.3L960.9,762.1L967.5,771.1L974.1,780.3L980.7,789.7L987.3,799.3L993.9,809L1000.5,818.8L1007.1,828.7L1013.7,838.7L1020.3,848.6L1026.9,858.6L1033.5,868.6L1040,878.5L1046.6,888.3L1053.2,898L1059.8,907.6L1066.4,917L1073,926.3L1079.6,935.3L1086.2,944.1L1092.8,952.6L1099.4,960.9L1106,968.9L1112.6,976.5L1119.2,983.8L1125.8,990.7L1132.4,997.3L1139,1003.4L1145.6,1009.2L1152.2,1014.5L1158.8,1019.3L1165.4,1023.7L1172,1027.6L1178.5,1031.1L1185.1,1034L1191.7,1036.5L1198.3,1038.4L1204.9,1039.9L1211.5,1040.8L1218.1,1041.2L1224.7,1041.1L1231.3,1040.4L1237.9,1039.3" fill="none" stroke="#800080" stroke-width="3" stroke-linejoin="round"/>
<path d="M578.4,890.2L585,880.4L591.6,870.6L598.2,860.6L604.8,850.6L611.4,840.7L618,830.7L624.6,820.8L631.2,811L637.8,801.2L644.4,791.6L650.9,782.2L657.5,772.9L664.1,763.9L670.7,755L677.3,746.5L683.9,738.2L690.5,730.2L697.1,722.5L703.7,715.2L710.3,708.2L716.9,701.6L723.5,695.4L730.1,689.6L736.7,684.3L743.3,679.4L749.9,674.9L756.5,671L763.1,667.5L769.7,664.5L776.2,662L782.8,660L789.4,658.5L796,657.5L802.6,657L809.2,657.1L815.8,657.7L822.4,658.8L829,660.4L835.6,662.5L842.2,665.1L848.8,668.3L855.4,671.9L862,676L868.6,680.5L875.2,685.5L881.8,691L888.4,696.9L895,703.2L901.6,709.8L908.1,716.9L914.7,724.3L921.3,732.1L927.9,740.1L934.5,748.5L941.1,757.2L947.7,766L954.3,775.1L960.9,784.5L967.5,793.9L974.1,803.6L980.7,813.3L987.3,823.2L993.9,833.1L1000.5,843.1L1007.1,853.1L1013.7,863L1020.3,873L1026.9,882.8L1033.5,892.6L1040,902.3L1046.6,911.8L1053.2,921.1L1059.8,930.3L1066.4,939.2L1073,947.9L1079.6,956.3L1086.2,964.5L1092.8,972.3L1099.4,979.8L1106,986.9L1112.6,993.7L1119.2,1000.1L1125.8,1006L1132.4,1011.6L1139,1016.7L1145.6,1021.3L1152.2,1025.5L1158.8,1029.2L1165.4,1032.4L1172,1035.2L1178.5,1037.4L1185.1,1039.1L1191.7,1040.3L1198.3,1041L1204.9,1041.2L1211.5,1040.8L1218.1,1040L1224.7,1038.6L1231.3,1036.7L1237.9,1034.3" fill="none" stroke="#00ff00" stroke-width="3" stroke-linejoin="round"/>
<rect x="1072.7" y="674.4" width="29.8" height="7.3" fill="#f00000"/>
<text x="1109.5" y="686" class="lg"><tspan font-family="Liberation Serif,serif" font-style="italic" font-weight="normal" font-size="19px" letter-spacing="0">ξ</tspan><tspan x="1121.5">=</tspan><tspan x="1139.5">0.03</tspan></text>
<rect x="1074.5" y="719.1" width="29.6" height="7.4" fill="#64006f"/>
<text x="1108" y="728.5" class="lg"><tspan font-family="Liberation Serif,serif" font-style="italic" font-weight="normal" font-size="19px" letter-spacing="0">ξ</tspan><tspan x="1120">=</tspan><tspan x="1138">0.06</tspan></text>
<rect x="1074.5" y="763.2" width="26.2" height="7.6" fill="#5cf000"/>
<text x="1108" y="771.8" class="lg"><tspan font-family="Liberation Serif,serif" font-style="italic" font-weight="normal" font-size="19px" letter-spacing="0">ξ</tspan><tspan x="1120">=</tspan><tspan x="1138">0.09</tspan></text>
<text x="274" y="535.8" class="cap" text-anchor="start">(a)</text>
<text x="334" y="535.8" class="cap" text-anchor="start">3D real plot</text>
<text x="1266.2" y="535.8" class="cap" text-anchor="start">(b)</text>
<text x="1328.5" y="535.8" class="cap" text-anchor="start" font-style="italic">t</text>
<text x="1352" y="535.8" class="cap" text-anchor="start">- variant</text>
<text x="776.2" y="1137.1" class="cap" text-anchor="start">(c)</text>
<text x="834.6" y="1137.1" class="cap" text-anchor="start" font-style="italic">ξ</text>
<text x="865.3" y="1137.1" class="cap" text-anchor="start">- variant</text>
</svg></body></html>
